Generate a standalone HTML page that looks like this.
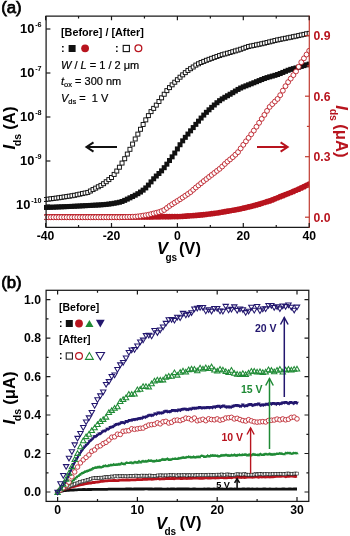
<!DOCTYPE html>
<html><head><meta charset="utf-8"><style>
html,body{margin:0;padding:0;background:#fff;}
svg{display:block;will-change:transform;}
text{font-family:"Liberation Sans",sans-serif;}
</style></head><body>
<svg width="350" height="536" viewBox="0 0 350 536" font-family="Liberation Sans, sans-serif">
<rect width="350" height="536" fill="#fff"/>
<clipPath id="ca"><rect x="44" y="10" width="265.3" height="220"/></clipPath>
<g id="a-data" clip-path="url(#ca)">
<rect x="43.10" y="204.96" width="5.0" height="5.0" fill="#111" stroke="none" stroke-width="0"/>
<rect x="45.74" y="204.88" width="5.0" height="5.0" fill="#111" stroke="none" stroke-width="0"/>
<rect x="48.37" y="204.77" width="5.0" height="5.0" fill="#111" stroke="none" stroke-width="0"/>
<rect x="51.01" y="204.66" width="5.0" height="5.0" fill="#111" stroke="none" stroke-width="0"/>
<rect x="53.64" y="204.55" width="5.0" height="5.0" fill="#111" stroke="none" stroke-width="0"/>
<rect x="56.28" y="204.43" width="5.0" height="5.0" fill="#111" stroke="none" stroke-width="0"/>
<rect x="58.92" y="204.32" width="5.0" height="5.0" fill="#111" stroke="none" stroke-width="0"/>
<rect x="61.55" y="204.21" width="5.0" height="5.0" fill="#111" stroke="none" stroke-width="0"/>
<rect x="64.19" y="204.10" width="5.0" height="5.0" fill="#111" stroke="none" stroke-width="0"/>
<rect x="66.82" y="203.98" width="5.0" height="5.0" fill="#111" stroke="none" stroke-width="0"/>
<rect x="69.46" y="203.87" width="5.0" height="5.0" fill="#111" stroke="none" stroke-width="0"/>
<rect x="72.10" y="203.74" width="5.0" height="5.0" fill="#111" stroke="none" stroke-width="0"/>
<rect x="74.73" y="203.61" width="5.0" height="5.0" fill="#111" stroke="none" stroke-width="0"/>
<rect x="77.37" y="203.47" width="5.0" height="5.0" fill="#111" stroke="none" stroke-width="0"/>
<rect x="80.00" y="203.33" width="5.0" height="5.0" fill="#111" stroke="none" stroke-width="0"/>
<rect x="82.64" y="203.19" width="5.0" height="5.0" fill="#111" stroke="none" stroke-width="0"/>
<rect x="85.28" y="203.05" width="5.0" height="5.0" fill="#111" stroke="none" stroke-width="0"/>
<rect x="87.91" y="202.92" width="5.0" height="5.0" fill="#111" stroke="none" stroke-width="0"/>
<rect x="90.55" y="202.78" width="5.0" height="5.0" fill="#111" stroke="none" stroke-width="0"/>
<rect x="93.18" y="202.64" width="5.0" height="5.0" fill="#111" stroke="none" stroke-width="0"/>
<rect x="95.82" y="202.50" width="5.0" height="5.0" fill="#111" stroke="none" stroke-width="0"/>
<rect x="98.46" y="202.33" width="5.0" height="5.0" fill="#111" stroke="none" stroke-width="0"/>
<rect x="101.09" y="202.13" width="5.0" height="5.0" fill="#111" stroke="none" stroke-width="0"/>
<rect x="103.73" y="201.87" width="5.0" height="5.0" fill="#111" stroke="none" stroke-width="0"/>
<rect x="106.36" y="201.58" width="5.0" height="5.0" fill="#111" stroke="none" stroke-width="0"/>
<rect x="109.00" y="201.21" width="5.0" height="5.0" fill="#111" stroke="none" stroke-width="0"/>
<rect x="111.64" y="200.77" width="5.0" height="5.0" fill="#111" stroke="none" stroke-width="0"/>
<rect x="114.27" y="200.30" width="5.0" height="5.0" fill="#111" stroke="none" stroke-width="0"/>
<rect x="116.91" y="199.76" width="5.0" height="5.0" fill="#111" stroke="none" stroke-width="0"/>
<rect x="119.54" y="198.97" width="5.0" height="5.0" fill="#111" stroke="none" stroke-width="0"/>
<rect x="122.18" y="197.87" width="5.0" height="5.0" fill="#111" stroke="none" stroke-width="0"/>
<rect x="124.82" y="196.62" width="5.0" height="5.0" fill="#111" stroke="none" stroke-width="0"/>
<rect x="127.45" y="195.34" width="5.0" height="5.0" fill="#111" stroke="none" stroke-width="0"/>
<rect x="130.09" y="194.05" width="5.0" height="5.0" fill="#111" stroke="none" stroke-width="0"/>
<rect x="132.72" y="192.69" width="5.0" height="5.0" fill="#111" stroke="none" stroke-width="0"/>
<rect x="135.36" y="191.20" width="5.0" height="5.0" fill="#111" stroke="none" stroke-width="0"/>
<rect x="138.00" y="189.54" width="5.0" height="5.0" fill="#111" stroke="none" stroke-width="0"/>
<rect x="140.63" y="187.65" width="5.0" height="5.0" fill="#111" stroke="none" stroke-width="0"/>
<rect x="143.27" y="185.40" width="5.0" height="5.0" fill="#111" stroke="none" stroke-width="0"/>
<rect x="145.90" y="182.59" width="5.0" height="5.0" fill="#111" stroke="none" stroke-width="0"/>
<rect x="148.54" y="179.37" width="5.0" height="5.0" fill="#111" stroke="none" stroke-width="0"/>
<rect x="151.18" y="176.29" width="5.0" height="5.0" fill="#111" stroke="none" stroke-width="0"/>
<rect x="153.81" y="173.54" width="5.0" height="5.0" fill="#111" stroke="none" stroke-width="0"/>
<rect x="156.45" y="171.01" width="5.0" height="5.0" fill="#111" stroke="none" stroke-width="0"/>
<rect x="159.08" y="168.35" width="5.0" height="5.0" fill="#111" stroke="none" stroke-width="0"/>
<rect x="161.72" y="165.19" width="5.0" height="5.0" fill="#111" stroke="none" stroke-width="0"/>
<rect x="164.36" y="161.66" width="5.0" height="5.0" fill="#111" stroke="none" stroke-width="0"/>
<rect x="166.99" y="158.02" width="5.0" height="5.0" fill="#111" stroke="none" stroke-width="0"/>
<rect x="169.63" y="154.34" width="5.0" height="5.0" fill="#111" stroke="none" stroke-width="0"/>
<rect x="172.26" y="150.54" width="5.0" height="5.0" fill="#111" stroke="none" stroke-width="0"/>
<rect x="174.90" y="146.44" width="5.0" height="5.0" fill="#111" stroke="none" stroke-width="0"/>
<rect x="177.54" y="142.23" width="5.0" height="5.0" fill="#111" stroke="none" stroke-width="0"/>
<rect x="180.17" y="138.34" width="5.0" height="5.0" fill="#111" stroke="none" stroke-width="0"/>
<rect x="182.81" y="134.85" width="5.0" height="5.0" fill="#111" stroke="none" stroke-width="0"/>
<rect x="185.44" y="131.55" width="5.0" height="5.0" fill="#111" stroke="none" stroke-width="0"/>
<rect x="188.08" y="128.32" width="5.0" height="5.0" fill="#111" stroke="none" stroke-width="0"/>
<rect x="190.72" y="125.08" width="5.0" height="5.0" fill="#111" stroke="none" stroke-width="0"/>
<rect x="193.35" y="121.85" width="5.0" height="5.0" fill="#111" stroke="none" stroke-width="0"/>
<rect x="195.99" y="118.67" width="5.0" height="5.0" fill="#111" stroke="none" stroke-width="0"/>
<rect x="198.62" y="115.56" width="5.0" height="5.0" fill="#111" stroke="none" stroke-width="0"/>
<rect x="201.26" y="112.57" width="5.0" height="5.0" fill="#111" stroke="none" stroke-width="0"/>
<rect x="203.90" y="109.83" width="5.0" height="5.0" fill="#111" stroke="none" stroke-width="0"/>
<rect x="206.53" y="107.30" width="5.0" height="5.0" fill="#111" stroke="none" stroke-width="0"/>
<rect x="209.17" y="104.87" width="5.0" height="5.0" fill="#111" stroke="none" stroke-width="0"/>
<rect x="211.80" y="102.50" width="5.0" height="5.0" fill="#111" stroke="none" stroke-width="0"/>
<rect x="214.44" y="100.23" width="5.0" height="5.0" fill="#111" stroke="none" stroke-width="0"/>
<rect x="217.08" y="98.16" width="5.0" height="5.0" fill="#111" stroke="none" stroke-width="0"/>
<rect x="219.71" y="96.38" width="5.0" height="5.0" fill="#111" stroke="none" stroke-width="0"/>
<rect x="222.35" y="94.79" width="5.0" height="5.0" fill="#111" stroke="none" stroke-width="0"/>
<rect x="224.98" y="93.26" width="5.0" height="5.0" fill="#111" stroke="none" stroke-width="0"/>
<rect x="227.62" y="91.74" width="5.0" height="5.0" fill="#111" stroke="none" stroke-width="0"/>
<rect x="230.26" y="90.17" width="5.0" height="5.0" fill="#111" stroke="none" stroke-width="0"/>
<rect x="232.89" y="88.54" width="5.0" height="5.0" fill="#111" stroke="none" stroke-width="0"/>
<rect x="235.53" y="86.93" width="5.0" height="5.0" fill="#111" stroke="none" stroke-width="0"/>
<rect x="238.16" y="85.52" width="5.0" height="5.0" fill="#111" stroke="none" stroke-width="0"/>
<rect x="240.80" y="84.36" width="5.0" height="5.0" fill="#111" stroke="none" stroke-width="0"/>
<rect x="243.44" y="83.33" width="5.0" height="5.0" fill="#111" stroke="none" stroke-width="0"/>
<rect x="246.07" y="82.31" width="5.0" height="5.0" fill="#111" stroke="none" stroke-width="0"/>
<rect x="248.71" y="81.29" width="5.0" height="5.0" fill="#111" stroke="none" stroke-width="0"/>
<rect x="251.34" y="80.24" width="5.0" height="5.0" fill="#111" stroke="none" stroke-width="0"/>
<rect x="253.98" y="79.18" width="5.0" height="5.0" fill="#111" stroke="none" stroke-width="0"/>
<rect x="256.62" y="78.10" width="5.0" height="5.0" fill="#111" stroke="none" stroke-width="0"/>
<rect x="259.25" y="77.04" width="5.0" height="5.0" fill="#111" stroke="none" stroke-width="0"/>
<rect x="261.89" y="76.01" width="5.0" height="5.0" fill="#111" stroke="none" stroke-width="0"/>
<rect x="264.52" y="75.11" width="5.0" height="5.0" fill="#111" stroke="none" stroke-width="0"/>
<rect x="267.16" y="74.33" width="5.0" height="5.0" fill="#111" stroke="none" stroke-width="0"/>
<rect x="269.80" y="73.60" width="5.0" height="5.0" fill="#111" stroke="none" stroke-width="0"/>
<rect x="272.43" y="72.85" width="5.0" height="5.0" fill="#111" stroke="none" stroke-width="0"/>
<rect x="275.07" y="72.01" width="5.0" height="5.0" fill="#111" stroke="none" stroke-width="0"/>
<rect x="277.70" y="71.03" width="5.0" height="5.0" fill="#111" stroke="none" stroke-width="0"/>
<rect x="280.34" y="69.94" width="5.0" height="5.0" fill="#111" stroke="none" stroke-width="0"/>
<rect x="282.98" y="68.83" width="5.0" height="5.0" fill="#111" stroke="none" stroke-width="0"/>
<rect x="285.61" y="67.76" width="5.0" height="5.0" fill="#111" stroke="none" stroke-width="0"/>
<rect x="288.25" y="66.85" width="5.0" height="5.0" fill="#111" stroke="none" stroke-width="0"/>
<rect x="290.88" y="66.12" width="5.0" height="5.0" fill="#111" stroke="none" stroke-width="0"/>
<rect x="293.52" y="65.43" width="5.0" height="5.0" fill="#111" stroke="none" stroke-width="0"/>
<rect x="296.16" y="64.69" width="5.0" height="5.0" fill="#111" stroke="none" stroke-width="0"/>
<rect x="298.79" y="63.91" width="5.0" height="5.0" fill="#111" stroke="none" stroke-width="0"/>
<rect x="301.43" y="63.12" width="5.0" height="5.0" fill="#111" stroke="none" stroke-width="0"/>
<rect x="304.06" y="62.35" width="5.0" height="5.0" fill="#111" stroke="none" stroke-width="0"/>
<rect x="306.70" y="61.62" width="5.0" height="5.0" fill="#111" stroke="none" stroke-width="0"/>
<rect x="43.60" y="197.49" width="4.0" height="4.0" fill="#fff" stroke="#111" stroke-width="0.95"/>
<rect x="46.24" y="197.14" width="4.0" height="4.0" fill="#fff" stroke="#111" stroke-width="0.95"/>
<rect x="48.87" y="196.80" width="4.0" height="4.0" fill="#fff" stroke="#111" stroke-width="0.95"/>
<rect x="51.51" y="196.46" width="4.0" height="4.0" fill="#fff" stroke="#111" stroke-width="0.95"/>
<rect x="54.14" y="196.11" width="4.0" height="4.0" fill="#fff" stroke="#111" stroke-width="0.95"/>
<rect x="56.78" y="195.77" width="4.0" height="4.0" fill="#fff" stroke="#111" stroke-width="0.95"/>
<rect x="59.42" y="195.37" width="4.0" height="4.0" fill="#fff" stroke="#111" stroke-width="0.95"/>
<rect x="62.05" y="194.97" width="4.0" height="4.0" fill="#fff" stroke="#111" stroke-width="0.95"/>
<rect x="64.69" y="194.56" width="4.0" height="4.0" fill="#fff" stroke="#111" stroke-width="0.95"/>
<rect x="67.32" y="194.16" width="4.0" height="4.0" fill="#fff" stroke="#111" stroke-width="0.95"/>
<rect x="69.96" y="193.75" width="4.0" height="4.0" fill="#fff" stroke="#111" stroke-width="0.95"/>
<rect x="72.60" y="193.28" width="4.0" height="4.0" fill="#fff" stroke="#111" stroke-width="0.95"/>
<rect x="75.23" y="192.71" width="4.0" height="4.0" fill="#fff" stroke="#111" stroke-width="0.95"/>
<rect x="77.87" y="192.14" width="4.0" height="4.0" fill="#fff" stroke="#111" stroke-width="0.95"/>
<rect x="80.50" y="191.57" width="4.0" height="4.0" fill="#fff" stroke="#111" stroke-width="0.95"/>
<rect x="83.14" y="191.00" width="4.0" height="4.0" fill="#fff" stroke="#111" stroke-width="0.95"/>
<rect x="85.78" y="190.43" width="4.0" height="4.0" fill="#fff" stroke="#111" stroke-width="0.95"/>
<rect x="88.41" y="189.02" width="4.0" height="4.0" fill="#fff" stroke="#111" stroke-width="0.95"/>
<rect x="91.05" y="187.57" width="4.0" height="4.0" fill="#fff" stroke="#111" stroke-width="0.95"/>
<rect x="93.68" y="186.14" width="4.0" height="4.0" fill="#fff" stroke="#111" stroke-width="0.95"/>
<rect x="96.32" y="184.77" width="4.0" height="4.0" fill="#fff" stroke="#111" stroke-width="0.95"/>
<rect x="98.96" y="183.40" width="4.0" height="4.0" fill="#fff" stroke="#111" stroke-width="0.95"/>
<rect x="101.59" y="181.69" width="4.0" height="4.0" fill="#fff" stroke="#111" stroke-width="0.95"/>
<rect x="104.23" y="179.73" width="4.0" height="4.0" fill="#fff" stroke="#111" stroke-width="0.95"/>
<rect x="106.86" y="177.61" width="4.0" height="4.0" fill="#fff" stroke="#111" stroke-width="0.95"/>
<rect x="109.50" y="175.48" width="4.0" height="4.0" fill="#fff" stroke="#111" stroke-width="0.95"/>
<rect x="112.14" y="172.40" width="4.0" height="4.0" fill="#fff" stroke="#111" stroke-width="0.95"/>
<rect x="114.77" y="169.04" width="4.0" height="4.0" fill="#fff" stroke="#111" stroke-width="0.95"/>
<rect x="117.41" y="165.22" width="4.0" height="4.0" fill="#fff" stroke="#111" stroke-width="0.95"/>
<rect x="120.04" y="161.06" width="4.0" height="4.0" fill="#fff" stroke="#111" stroke-width="0.95"/>
<rect x="122.68" y="156.71" width="4.0" height="4.0" fill="#fff" stroke="#111" stroke-width="0.95"/>
<rect x="125.32" y="152.08" width="4.0" height="4.0" fill="#fff" stroke="#111" stroke-width="0.95"/>
<rect x="127.95" y="147.31" width="4.0" height="4.0" fill="#fff" stroke="#111" stroke-width="0.95"/>
<rect x="130.59" y="142.09" width="4.0" height="4.0" fill="#fff" stroke="#111" stroke-width="0.95"/>
<rect x="133.22" y="136.98" width="4.0" height="4.0" fill="#fff" stroke="#111" stroke-width="0.95"/>
<rect x="135.86" y="132.13" width="4.0" height="4.0" fill="#fff" stroke="#111" stroke-width="0.95"/>
<rect x="138.50" y="127.28" width="4.0" height="4.0" fill="#fff" stroke="#111" stroke-width="0.95"/>
<rect x="141.13" y="122.46" width="4.0" height="4.0" fill="#fff" stroke="#111" stroke-width="0.95"/>
<rect x="143.77" y="117.88" width="4.0" height="4.0" fill="#fff" stroke="#111" stroke-width="0.95"/>
<rect x="146.40" y="113.62" width="4.0" height="4.0" fill="#fff" stroke="#111" stroke-width="0.95"/>
<rect x="149.04" y="109.61" width="4.0" height="4.0" fill="#fff" stroke="#111" stroke-width="0.95"/>
<rect x="151.68" y="106.38" width="4.0" height="4.0" fill="#fff" stroke="#111" stroke-width="0.95"/>
<rect x="154.31" y="103.11" width="4.0" height="4.0" fill="#fff" stroke="#111" stroke-width="0.95"/>
<rect x="156.95" y="99.47" width="4.0" height="4.0" fill="#fff" stroke="#111" stroke-width="0.95"/>
<rect x="159.58" y="95.84" width="4.0" height="4.0" fill="#fff" stroke="#111" stroke-width="0.95"/>
<rect x="162.22" y="92.23" width="4.0" height="4.0" fill="#fff" stroke="#111" stroke-width="0.95"/>
<rect x="164.86" y="88.62" width="4.0" height="4.0" fill="#fff" stroke="#111" stroke-width="0.95"/>
<rect x="167.49" y="85.61" width="4.0" height="4.0" fill="#fff" stroke="#111" stroke-width="0.95"/>
<rect x="170.13" y="82.83" width="4.0" height="4.0" fill="#fff" stroke="#111" stroke-width="0.95"/>
<rect x="172.76" y="80.21" width="4.0" height="4.0" fill="#fff" stroke="#111" stroke-width="0.95"/>
<rect x="175.40" y="77.70" width="4.0" height="4.0" fill="#fff" stroke="#111" stroke-width="0.95"/>
<rect x="178.04" y="75.20" width="4.0" height="4.0" fill="#fff" stroke="#111" stroke-width="0.95"/>
<rect x="180.67" y="72.85" width="4.0" height="4.0" fill="#fff" stroke="#111" stroke-width="0.95"/>
<rect x="183.31" y="70.64" width="4.0" height="4.0" fill="#fff" stroke="#111" stroke-width="0.95"/>
<rect x="185.94" y="68.43" width="4.0" height="4.0" fill="#fff" stroke="#111" stroke-width="0.95"/>
<rect x="188.58" y="66.70" width="4.0" height="4.0" fill="#fff" stroke="#111" stroke-width="0.95"/>
<rect x="191.22" y="64.99" width="4.0" height="4.0" fill="#fff" stroke="#111" stroke-width="0.95"/>
<rect x="193.85" y="63.11" width="4.0" height="4.0" fill="#fff" stroke="#111" stroke-width="0.95"/>
<rect x="196.49" y="61.78" width="4.0" height="4.0" fill="#fff" stroke="#111" stroke-width="0.95"/>
<rect x="199.12" y="60.49" width="4.0" height="4.0" fill="#fff" stroke="#111" stroke-width="0.95"/>
<rect x="201.76" y="59.40" width="4.0" height="4.0" fill="#fff" stroke="#111" stroke-width="0.95"/>
<rect x="204.40" y="58.30" width="4.0" height="4.0" fill="#fff" stroke="#111" stroke-width="0.95"/>
<rect x="207.03" y="57.33" width="4.0" height="4.0" fill="#fff" stroke="#111" stroke-width="0.95"/>
<rect x="209.67" y="56.35" width="4.0" height="4.0" fill="#fff" stroke="#111" stroke-width="0.95"/>
<rect x="212.30" y="55.40" width="4.0" height="4.0" fill="#fff" stroke="#111" stroke-width="0.95"/>
<rect x="214.94" y="54.45" width="4.0" height="4.0" fill="#fff" stroke="#111" stroke-width="0.95"/>
<rect x="217.58" y="53.56" width="4.0" height="4.0" fill="#fff" stroke="#111" stroke-width="0.95"/>
<rect x="220.21" y="52.69" width="4.0" height="4.0" fill="#fff" stroke="#111" stroke-width="0.95"/>
<rect x="222.85" y="51.96" width="4.0" height="4.0" fill="#fff" stroke="#111" stroke-width="0.95"/>
<rect x="225.48" y="51.23" width="4.0" height="4.0" fill="#fff" stroke="#111" stroke-width="0.95"/>
<rect x="228.12" y="50.46" width="4.0" height="4.0" fill="#fff" stroke="#111" stroke-width="0.95"/>
<rect x="230.76" y="49.69" width="4.0" height="4.0" fill="#fff" stroke="#111" stroke-width="0.95"/>
<rect x="233.39" y="48.90" width="4.0" height="4.0" fill="#fff" stroke="#111" stroke-width="0.95"/>
<rect x="236.03" y="48.10" width="4.0" height="4.0" fill="#fff" stroke="#111" stroke-width="0.95"/>
<rect x="238.66" y="47.26" width="4.0" height="4.0" fill="#fff" stroke="#111" stroke-width="0.95"/>
<rect x="241.30" y="46.30" width="4.0" height="4.0" fill="#fff" stroke="#111" stroke-width="0.95"/>
<rect x="243.94" y="45.35" width="4.0" height="4.0" fill="#fff" stroke="#111" stroke-width="0.95"/>
<rect x="246.57" y="44.48" width="4.0" height="4.0" fill="#fff" stroke="#111" stroke-width="0.95"/>
<rect x="249.21" y="43.94" width="4.0" height="4.0" fill="#fff" stroke="#111" stroke-width="0.95"/>
<rect x="251.84" y="43.39" width="4.0" height="4.0" fill="#fff" stroke="#111" stroke-width="0.95"/>
<rect x="254.48" y="42.85" width="4.0" height="4.0" fill="#fff" stroke="#111" stroke-width="0.95"/>
<rect x="257.12" y="42.30" width="4.0" height="4.0" fill="#fff" stroke="#111" stroke-width="0.95"/>
<rect x="259.75" y="41.76" width="4.0" height="4.0" fill="#fff" stroke="#111" stroke-width="0.95"/>
<rect x="262.39" y="41.16" width="4.0" height="4.0" fill="#fff" stroke="#111" stroke-width="0.95"/>
<rect x="265.02" y="40.51" width="4.0" height="4.0" fill="#fff" stroke="#111" stroke-width="0.95"/>
<rect x="267.66" y="39.86" width="4.0" height="4.0" fill="#fff" stroke="#111" stroke-width="0.95"/>
<rect x="270.30" y="39.21" width="4.0" height="4.0" fill="#fff" stroke="#111" stroke-width="0.95"/>
<rect x="272.93" y="38.56" width="4.0" height="4.0" fill="#fff" stroke="#111" stroke-width="0.95"/>
<rect x="275.57" y="37.91" width="4.0" height="4.0" fill="#fff" stroke="#111" stroke-width="0.95"/>
<rect x="278.20" y="37.36" width="4.0" height="4.0" fill="#fff" stroke="#111" stroke-width="0.95"/>
<rect x="280.84" y="36.83" width="4.0" height="4.0" fill="#fff" stroke="#111" stroke-width="0.95"/>
<rect x="283.48" y="36.30" width="4.0" height="4.0" fill="#fff" stroke="#111" stroke-width="0.95"/>
<rect x="286.11" y="35.78" width="4.0" height="4.0" fill="#fff" stroke="#111" stroke-width="0.95"/>
<rect x="288.75" y="35.25" width="4.0" height="4.0" fill="#fff" stroke="#111" stroke-width="0.95"/>
<rect x="291.38" y="34.72" width="4.0" height="4.0" fill="#fff" stroke="#111" stroke-width="0.95"/>
<rect x="294.02" y="34.17" width="4.0" height="4.0" fill="#fff" stroke="#111" stroke-width="0.95"/>
<rect x="296.66" y="33.57" width="4.0" height="4.0" fill="#fff" stroke="#111" stroke-width="0.95"/>
<rect x="299.29" y="32.98" width="4.0" height="4.0" fill="#fff" stroke="#111" stroke-width="0.95"/>
<rect x="301.93" y="32.38" width="4.0" height="4.0" fill="#fff" stroke="#111" stroke-width="0.95"/>
<rect x="304.56" y="31.79" width="4.0" height="4.0" fill="#fff" stroke="#111" stroke-width="0.95"/>
<rect x="307.20" y="31.37" width="4.0" height="4.0" fill="#fff" stroke="#111" stroke-width="0.95"/>
<circle cx="45.60" cy="216.90" r="2.85" fill="#b8141e" stroke="none" stroke-width="0"/>
<circle cx="48.24" cy="216.90" r="2.85" fill="#b8141e" stroke="none" stroke-width="0"/>
<circle cx="50.87" cy="216.90" r="2.85" fill="#b8141e" stroke="none" stroke-width="0"/>
<circle cx="53.51" cy="216.90" r="2.85" fill="#b8141e" stroke="none" stroke-width="0"/>
<circle cx="56.14" cy="216.90" r="2.85" fill="#b8141e" stroke="none" stroke-width="0"/>
<circle cx="58.78" cy="216.90" r="2.85" fill="#b8141e" stroke="none" stroke-width="0"/>
<circle cx="61.42" cy="216.90" r="2.85" fill="#b8141e" stroke="none" stroke-width="0"/>
<circle cx="64.05" cy="216.90" r="2.85" fill="#b8141e" stroke="none" stroke-width="0"/>
<circle cx="66.69" cy="216.90" r="2.85" fill="#b8141e" stroke="none" stroke-width="0"/>
<circle cx="69.32" cy="216.90" r="2.85" fill="#b8141e" stroke="none" stroke-width="0"/>
<circle cx="71.96" cy="216.90" r="2.85" fill="#b8141e" stroke="none" stroke-width="0"/>
<circle cx="74.60" cy="216.90" r="2.85" fill="#b8141e" stroke="none" stroke-width="0"/>
<circle cx="77.23" cy="216.90" r="2.85" fill="#b8141e" stroke="none" stroke-width="0"/>
<circle cx="79.87" cy="216.90" r="2.85" fill="#b8141e" stroke="none" stroke-width="0"/>
<circle cx="82.50" cy="216.90" r="2.85" fill="#b8141e" stroke="none" stroke-width="0"/>
<circle cx="85.14" cy="216.90" r="2.85" fill="#b8141e" stroke="none" stroke-width="0"/>
<circle cx="87.78" cy="216.90" r="2.85" fill="#b8141e" stroke="none" stroke-width="0"/>
<circle cx="90.41" cy="216.90" r="2.85" fill="#b8141e" stroke="none" stroke-width="0"/>
<circle cx="93.05" cy="216.90" r="2.85" fill="#b8141e" stroke="none" stroke-width="0"/>
<circle cx="95.68" cy="216.90" r="2.85" fill="#b8141e" stroke="none" stroke-width="0"/>
<circle cx="98.32" cy="216.90" r="2.85" fill="#b8141e" stroke="none" stroke-width="0"/>
<circle cx="100.96" cy="216.90" r="2.85" fill="#b8141e" stroke="none" stroke-width="0"/>
<circle cx="103.59" cy="216.90" r="2.85" fill="#b8141e" stroke="none" stroke-width="0"/>
<circle cx="106.23" cy="216.90" r="2.85" fill="#b8141e" stroke="none" stroke-width="0"/>
<circle cx="108.86" cy="216.90" r="2.85" fill="#b8141e" stroke="none" stroke-width="0"/>
<circle cx="111.50" cy="216.90" r="2.85" fill="#b8141e" stroke="none" stroke-width="0"/>
<circle cx="114.14" cy="216.90" r="2.85" fill="#b8141e" stroke="none" stroke-width="0"/>
<circle cx="116.77" cy="216.90" r="2.85" fill="#b8141e" stroke="none" stroke-width="0"/>
<circle cx="119.41" cy="216.90" r="2.85" fill="#b8141e" stroke="none" stroke-width="0"/>
<circle cx="122.04" cy="216.90" r="2.85" fill="#b8141e" stroke="none" stroke-width="0"/>
<circle cx="124.68" cy="216.90" r="2.85" fill="#b8141e" stroke="none" stroke-width="0"/>
<circle cx="127.32" cy="216.90" r="2.85" fill="#b8141e" stroke="none" stroke-width="0"/>
<circle cx="129.95" cy="216.90" r="2.85" fill="#b8141e" stroke="none" stroke-width="0"/>
<circle cx="132.59" cy="216.90" r="2.85" fill="#b8141e" stroke="none" stroke-width="0"/>
<circle cx="135.22" cy="216.90" r="2.85" fill="#b8141e" stroke="none" stroke-width="0"/>
<circle cx="137.86" cy="216.90" r="2.85" fill="#b8141e" stroke="none" stroke-width="0"/>
<circle cx="140.50" cy="216.90" r="2.85" fill="#b8141e" stroke="none" stroke-width="0"/>
<circle cx="143.13" cy="216.90" r="2.85" fill="#b8141e" stroke="none" stroke-width="0"/>
<circle cx="145.77" cy="216.90" r="2.85" fill="#b8141e" stroke="none" stroke-width="0"/>
<circle cx="148.40" cy="216.90" r="2.85" fill="#b8141e" stroke="none" stroke-width="0"/>
<circle cx="151.04" cy="216.89" r="2.85" fill="#b8141e" stroke="none" stroke-width="0"/>
<circle cx="153.68" cy="216.85" r="2.85" fill="#b8141e" stroke="none" stroke-width="0"/>
<circle cx="156.31" cy="216.82" r="2.85" fill="#b8141e" stroke="none" stroke-width="0"/>
<circle cx="158.95" cy="216.78" r="2.85" fill="#b8141e" stroke="none" stroke-width="0"/>
<circle cx="161.58" cy="216.75" r="2.85" fill="#b8141e" stroke="none" stroke-width="0"/>
<circle cx="164.22" cy="216.71" r="2.85" fill="#b8141e" stroke="none" stroke-width="0"/>
<circle cx="166.86" cy="216.68" r="2.85" fill="#b8141e" stroke="none" stroke-width="0"/>
<circle cx="169.49" cy="216.64" r="2.85" fill="#b8141e" stroke="none" stroke-width="0"/>
<circle cx="172.13" cy="216.60" r="2.85" fill="#b8141e" stroke="none" stroke-width="0"/>
<circle cx="174.76" cy="216.57" r="2.85" fill="#b8141e" stroke="none" stroke-width="0"/>
<circle cx="177.40" cy="216.53" r="2.85" fill="#b8141e" stroke="none" stroke-width="0"/>
<circle cx="180.04" cy="216.50" r="2.85" fill="#b8141e" stroke="none" stroke-width="0"/>
<circle cx="182.67" cy="216.31" r="2.85" fill="#b8141e" stroke="none" stroke-width="0"/>
<circle cx="185.31" cy="216.13" r="2.85" fill="#b8141e" stroke="none" stroke-width="0"/>
<circle cx="187.94" cy="215.94" r="2.85" fill="#b8141e" stroke="none" stroke-width="0"/>
<circle cx="190.58" cy="215.76" r="2.85" fill="#b8141e" stroke="none" stroke-width="0"/>
<circle cx="193.22" cy="215.57" r="2.85" fill="#b8141e" stroke="none" stroke-width="0"/>
<circle cx="195.85" cy="215.39" r="2.85" fill="#b8141e" stroke="none" stroke-width="0"/>
<circle cx="198.49" cy="215.21" r="2.85" fill="#b8141e" stroke="none" stroke-width="0"/>
<circle cx="201.12" cy="214.96" r="2.85" fill="#b8141e" stroke="none" stroke-width="0"/>
<circle cx="203.76" cy="214.64" r="2.85" fill="#b8141e" stroke="none" stroke-width="0"/>
<circle cx="206.40" cy="214.31" r="2.85" fill="#b8141e" stroke="none" stroke-width="0"/>
<circle cx="209.03" cy="213.99" r="2.85" fill="#b8141e" stroke="none" stroke-width="0"/>
<circle cx="211.67" cy="213.67" r="2.85" fill="#b8141e" stroke="none" stroke-width="0"/>
<circle cx="214.30" cy="213.34" r="2.85" fill="#b8141e" stroke="none" stroke-width="0"/>
<circle cx="216.94" cy="213.02" r="2.85" fill="#b8141e" stroke="none" stroke-width="0"/>
<circle cx="219.58" cy="212.57" r="2.85" fill="#b8141e" stroke="none" stroke-width="0"/>
<circle cx="222.21" cy="212.11" r="2.85" fill="#b8141e" stroke="none" stroke-width="0"/>
<circle cx="224.85" cy="211.65" r="2.85" fill="#b8141e" stroke="none" stroke-width="0"/>
<circle cx="227.48" cy="211.19" r="2.85" fill="#b8141e" stroke="none" stroke-width="0"/>
<circle cx="230.12" cy="210.73" r="2.85" fill="#b8141e" stroke="none" stroke-width="0"/>
<circle cx="232.76" cy="210.27" r="2.85" fill="#b8141e" stroke="none" stroke-width="0"/>
<circle cx="235.39" cy="209.80" r="2.85" fill="#b8141e" stroke="none" stroke-width="0"/>
<circle cx="238.03" cy="209.34" r="2.85" fill="#b8141e" stroke="none" stroke-width="0"/>
<circle cx="240.66" cy="208.84" r="2.85" fill="#b8141e" stroke="none" stroke-width="0"/>
<circle cx="243.30" cy="208.22" r="2.85" fill="#b8141e" stroke="none" stroke-width="0"/>
<circle cx="245.94" cy="207.59" r="2.85" fill="#b8141e" stroke="none" stroke-width="0"/>
<circle cx="248.57" cy="206.96" r="2.85" fill="#b8141e" stroke="none" stroke-width="0"/>
<circle cx="251.21" cy="206.34" r="2.85" fill="#b8141e" stroke="none" stroke-width="0"/>
<circle cx="253.84" cy="205.71" r="2.85" fill="#b8141e" stroke="none" stroke-width="0"/>
<circle cx="256.48" cy="204.93" r="2.85" fill="#b8141e" stroke="none" stroke-width="0"/>
<circle cx="259.12" cy="204.13" r="2.85" fill="#b8141e" stroke="none" stroke-width="0"/>
<circle cx="261.75" cy="203.32" r="2.85" fill="#b8141e" stroke="none" stroke-width="0"/>
<circle cx="264.39" cy="202.52" r="2.85" fill="#b8141e" stroke="none" stroke-width="0"/>
<circle cx="267.02" cy="201.71" r="2.85" fill="#b8141e" stroke="none" stroke-width="0"/>
<circle cx="269.66" cy="200.90" r="2.85" fill="#b8141e" stroke="none" stroke-width="0"/>
<circle cx="272.30" cy="199.88" r="2.85" fill="#b8141e" stroke="none" stroke-width="0"/>
<circle cx="274.93" cy="198.83" r="2.85" fill="#b8141e" stroke="none" stroke-width="0"/>
<circle cx="277.57" cy="197.77" r="2.85" fill="#b8141e" stroke="none" stroke-width="0"/>
<circle cx="280.20" cy="196.72" r="2.85" fill="#b8141e" stroke="none" stroke-width="0"/>
<circle cx="282.84" cy="195.66" r="2.85" fill="#b8141e" stroke="none" stroke-width="0"/>
<circle cx="285.48" cy="194.61" r="2.85" fill="#b8141e" stroke="none" stroke-width="0"/>
<circle cx="288.11" cy="193.56" r="2.85" fill="#b8141e" stroke="none" stroke-width="0"/>
<circle cx="290.75" cy="192.49" r="2.85" fill="#b8141e" stroke="none" stroke-width="0"/>
<circle cx="293.38" cy="191.38" r="2.85" fill="#b8141e" stroke="none" stroke-width="0"/>
<circle cx="296.02" cy="190.27" r="2.85" fill="#b8141e" stroke="none" stroke-width="0"/>
<circle cx="298.66" cy="189.16" r="2.85" fill="#b8141e" stroke="none" stroke-width="0"/>
<circle cx="301.29" cy="187.95" r="2.85" fill="#b8141e" stroke="none" stroke-width="0"/>
<circle cx="303.93" cy="186.64" r="2.85" fill="#b8141e" stroke="none" stroke-width="0"/>
<circle cx="306.56" cy="185.32" r="2.85" fill="#b8141e" stroke="none" stroke-width="0"/>
<circle cx="309.20" cy="183.99" r="2.85" fill="#b8141e" stroke="none" stroke-width="0"/>
<circle cx="45.60" cy="217.30" r="2.45" fill="#fff" stroke="#b8141e" stroke-width="0.85"/>
<circle cx="48.24" cy="217.30" r="2.45" fill="#fff" stroke="#b8141e" stroke-width="0.85"/>
<circle cx="50.87" cy="217.30" r="2.45" fill="#fff" stroke="#b8141e" stroke-width="0.85"/>
<circle cx="53.51" cy="217.30" r="2.45" fill="#fff" stroke="#b8141e" stroke-width="0.85"/>
<circle cx="56.14" cy="217.30" r="2.45" fill="#fff" stroke="#b8141e" stroke-width="0.85"/>
<circle cx="58.78" cy="217.30" r="2.45" fill="#fff" stroke="#b8141e" stroke-width="0.85"/>
<circle cx="61.42" cy="217.30" r="2.45" fill="#fff" stroke="#b8141e" stroke-width="0.85"/>
<circle cx="64.05" cy="217.30" r="2.45" fill="#fff" stroke="#b8141e" stroke-width="0.85"/>
<circle cx="66.69" cy="217.30" r="2.45" fill="#fff" stroke="#b8141e" stroke-width="0.85"/>
<circle cx="69.32" cy="217.30" r="2.45" fill="#fff" stroke="#b8141e" stroke-width="0.85"/>
<circle cx="71.96" cy="217.30" r="2.45" fill="#fff" stroke="#b8141e" stroke-width="0.85"/>
<circle cx="74.60" cy="217.30" r="2.45" fill="#fff" stroke="#b8141e" stroke-width="0.85"/>
<circle cx="77.23" cy="217.30" r="2.45" fill="#fff" stroke="#b8141e" stroke-width="0.85"/>
<circle cx="79.87" cy="217.30" r="2.45" fill="#fff" stroke="#b8141e" stroke-width="0.85"/>
<circle cx="82.50" cy="217.30" r="2.45" fill="#fff" stroke="#b8141e" stroke-width="0.85"/>
<circle cx="85.14" cy="217.30" r="2.45" fill="#fff" stroke="#b8141e" stroke-width="0.85"/>
<circle cx="87.78" cy="217.30" r="2.45" fill="#fff" stroke="#b8141e" stroke-width="0.85"/>
<circle cx="90.41" cy="217.30" r="2.45" fill="#fff" stroke="#b8141e" stroke-width="0.85"/>
<circle cx="93.05" cy="217.30" r="2.45" fill="#fff" stroke="#b8141e" stroke-width="0.85"/>
<circle cx="95.68" cy="217.30" r="2.45" fill="#fff" stroke="#b8141e" stroke-width="0.85"/>
<circle cx="98.32" cy="217.30" r="2.45" fill="#fff" stroke="#b8141e" stroke-width="0.85"/>
<circle cx="100.96" cy="217.30" r="2.45" fill="#fff" stroke="#b8141e" stroke-width="0.85"/>
<circle cx="103.59" cy="217.30" r="2.45" fill="#fff" stroke="#b8141e" stroke-width="0.85"/>
<circle cx="106.23" cy="217.30" r="2.45" fill="#fff" stroke="#b8141e" stroke-width="0.85"/>
<circle cx="108.86" cy="217.30" r="2.45" fill="#fff" stroke="#b8141e" stroke-width="0.85"/>
<circle cx="111.50" cy="217.30" r="2.45" fill="#fff" stroke="#b8141e" stroke-width="0.85"/>
<circle cx="114.14" cy="217.30" r="2.45" fill="#fff" stroke="#b8141e" stroke-width="0.85"/>
<circle cx="116.77" cy="217.30" r="2.45" fill="#fff" stroke="#b8141e" stroke-width="0.85"/>
<circle cx="119.41" cy="217.30" r="2.45" fill="#fff" stroke="#b8141e" stroke-width="0.85"/>
<circle cx="122.04" cy="217.22" r="2.45" fill="#fff" stroke="#b8141e" stroke-width="0.85"/>
<circle cx="124.68" cy="217.11" r="2.45" fill="#fff" stroke="#b8141e" stroke-width="0.85"/>
<circle cx="127.32" cy="217.00" r="2.45" fill="#fff" stroke="#b8141e" stroke-width="0.85"/>
<circle cx="129.95" cy="216.88" r="2.45" fill="#fff" stroke="#b8141e" stroke-width="0.85"/>
<circle cx="132.59" cy="216.77" r="2.45" fill="#fff" stroke="#b8141e" stroke-width="0.85"/>
<circle cx="135.22" cy="216.65" r="2.45" fill="#fff" stroke="#b8141e" stroke-width="0.85"/>
<circle cx="137.86" cy="216.38" r="2.45" fill="#fff" stroke="#b8141e" stroke-width="0.85"/>
<circle cx="140.50" cy="215.99" r="2.45" fill="#fff" stroke="#b8141e" stroke-width="0.85"/>
<circle cx="143.13" cy="215.60" r="2.45" fill="#fff" stroke="#b8141e" stroke-width="0.85"/>
<circle cx="145.77" cy="215.22" r="2.45" fill="#fff" stroke="#b8141e" stroke-width="0.85"/>
<circle cx="148.40" cy="214.77" r="2.45" fill="#fff" stroke="#b8141e" stroke-width="0.85"/>
<circle cx="151.04" cy="214.10" r="2.45" fill="#fff" stroke="#b8141e" stroke-width="0.85"/>
<circle cx="153.68" cy="213.43" r="2.45" fill="#fff" stroke="#b8141e" stroke-width="0.85"/>
<circle cx="156.31" cy="212.76" r="2.45" fill="#fff" stroke="#b8141e" stroke-width="0.85"/>
<circle cx="158.95" cy="212.09" r="2.45" fill="#fff" stroke="#b8141e" stroke-width="0.85"/>
<circle cx="161.58" cy="211.11" r="2.45" fill="#fff" stroke="#b8141e" stroke-width="0.85"/>
<circle cx="164.22" cy="209.96" r="2.45" fill="#fff" stroke="#b8141e" stroke-width="0.85"/>
<circle cx="166.86" cy="207.97" r="2.45" fill="#fff" stroke="#b8141e" stroke-width="0.85"/>
<circle cx="169.49" cy="205.98" r="2.45" fill="#fff" stroke="#b8141e" stroke-width="0.85"/>
<circle cx="172.13" cy="204.26" r="2.45" fill="#fff" stroke="#b8141e" stroke-width="0.85"/>
<circle cx="174.76" cy="202.60" r="2.45" fill="#fff" stroke="#b8141e" stroke-width="0.85"/>
<circle cx="177.40" cy="200.94" r="2.45" fill="#fff" stroke="#b8141e" stroke-width="0.85"/>
<circle cx="180.04" cy="199.28" r="2.45" fill="#fff" stroke="#b8141e" stroke-width="0.85"/>
<circle cx="182.67" cy="197.51" r="2.45" fill="#fff" stroke="#b8141e" stroke-width="0.85"/>
<circle cx="185.31" cy="195.74" r="2.45" fill="#fff" stroke="#b8141e" stroke-width="0.85"/>
<circle cx="187.94" cy="193.98" r="2.45" fill="#fff" stroke="#b8141e" stroke-width="0.85"/>
<circle cx="190.58" cy="192.09" r="2.45" fill="#fff" stroke="#b8141e" stroke-width="0.85"/>
<circle cx="193.22" cy="189.77" r="2.45" fill="#fff" stroke="#b8141e" stroke-width="0.85"/>
<circle cx="195.85" cy="187.51" r="2.45" fill="#fff" stroke="#b8141e" stroke-width="0.85"/>
<circle cx="198.49" cy="185.36" r="2.45" fill="#fff" stroke="#b8141e" stroke-width="0.85"/>
<circle cx="201.12" cy="183.22" r="2.45" fill="#fff" stroke="#b8141e" stroke-width="0.85"/>
<circle cx="203.76" cy="181.08" r="2.45" fill="#fff" stroke="#b8141e" stroke-width="0.85"/>
<circle cx="206.40" cy="179.03" r="2.45" fill="#fff" stroke="#b8141e" stroke-width="0.85"/>
<circle cx="209.03" cy="176.98" r="2.45" fill="#fff" stroke="#b8141e" stroke-width="0.85"/>
<circle cx="211.67" cy="174.94" r="2.45" fill="#fff" stroke="#b8141e" stroke-width="0.85"/>
<circle cx="214.30" cy="172.91" r="2.45" fill="#fff" stroke="#b8141e" stroke-width="0.85"/>
<circle cx="216.94" cy="170.89" r="2.45" fill="#fff" stroke="#b8141e" stroke-width="0.85"/>
<circle cx="219.58" cy="168.86" r="2.45" fill="#fff" stroke="#b8141e" stroke-width="0.85"/>
<circle cx="222.21" cy="166.51" r="2.45" fill="#fff" stroke="#b8141e" stroke-width="0.85"/>
<circle cx="224.85" cy="163.93" r="2.45" fill="#fff" stroke="#b8141e" stroke-width="0.85"/>
<circle cx="227.48" cy="161.53" r="2.45" fill="#fff" stroke="#b8141e" stroke-width="0.85"/>
<circle cx="230.12" cy="159.38" r="2.45" fill="#fff" stroke="#b8141e" stroke-width="0.85"/>
<circle cx="232.76" cy="157.17" r="2.45" fill="#fff" stroke="#b8141e" stroke-width="0.85"/>
<circle cx="235.39" cy="154.67" r="2.45" fill="#fff" stroke="#b8141e" stroke-width="0.85"/>
<circle cx="238.03" cy="152.12" r="2.45" fill="#fff" stroke="#b8141e" stroke-width="0.85"/>
<circle cx="240.66" cy="148.45" r="2.45" fill="#fff" stroke="#b8141e" stroke-width="0.85"/>
<circle cx="243.30" cy="144.81" r="2.45" fill="#fff" stroke="#b8141e" stroke-width="0.85"/>
<circle cx="245.94" cy="141.34" r="2.45" fill="#fff" stroke="#b8141e" stroke-width="0.85"/>
<circle cx="248.57" cy="137.86" r="2.45" fill="#fff" stroke="#b8141e" stroke-width="0.85"/>
<circle cx="251.21" cy="134.26" r="2.45" fill="#fff" stroke="#b8141e" stroke-width="0.85"/>
<circle cx="253.84" cy="130.60" r="2.45" fill="#fff" stroke="#b8141e" stroke-width="0.85"/>
<circle cx="256.48" cy="126.73" r="2.45" fill="#fff" stroke="#b8141e" stroke-width="0.85"/>
<circle cx="259.12" cy="122.82" r="2.45" fill="#fff" stroke="#b8141e" stroke-width="0.85"/>
<circle cx="261.75" cy="118.84" r="2.45" fill="#fff" stroke="#b8141e" stroke-width="0.85"/>
<circle cx="264.39" cy="114.87" r="2.45" fill="#fff" stroke="#b8141e" stroke-width="0.85"/>
<circle cx="267.02" cy="110.89" r="2.45" fill="#fff" stroke="#b8141e" stroke-width="0.85"/>
<circle cx="269.66" cy="106.91" r="2.45" fill="#fff" stroke="#b8141e" stroke-width="0.85"/>
<circle cx="272.30" cy="104.13" r="2.45" fill="#fff" stroke="#b8141e" stroke-width="0.85"/>
<circle cx="274.93" cy="101.53" r="2.45" fill="#fff" stroke="#b8141e" stroke-width="0.85"/>
<circle cx="277.57" cy="98.92" r="2.45" fill="#fff" stroke="#b8141e" stroke-width="0.85"/>
<circle cx="280.20" cy="95.17" r="2.45" fill="#fff" stroke="#b8141e" stroke-width="0.85"/>
<circle cx="282.84" cy="90.68" r="2.45" fill="#fff" stroke="#b8141e" stroke-width="0.85"/>
<circle cx="285.48" cy="86.19" r="2.45" fill="#fff" stroke="#b8141e" stroke-width="0.85"/>
<circle cx="288.11" cy="82.12" r="2.45" fill="#fff" stroke="#b8141e" stroke-width="0.85"/>
<circle cx="290.75" cy="78.60" r="2.45" fill="#fff" stroke="#b8141e" stroke-width="0.85"/>
<circle cx="293.38" cy="75.09" r="2.45" fill="#fff" stroke="#b8141e" stroke-width="0.85"/>
<circle cx="296.02" cy="71.44" r="2.45" fill="#fff" stroke="#b8141e" stroke-width="0.85"/>
<circle cx="298.66" cy="66.81" r="2.45" fill="#fff" stroke="#b8141e" stroke-width="0.85"/>
<circle cx="301.29" cy="62.19" r="2.45" fill="#fff" stroke="#b8141e" stroke-width="0.85"/>
<circle cx="303.93" cy="58.34" r="2.45" fill="#fff" stroke="#b8141e" stroke-width="0.85"/>
<circle cx="306.56" cy="54.53" r="2.45" fill="#fff" stroke="#b8141e" stroke-width="0.85"/>
<circle cx="309.20" cy="50.75" r="2.45" fill="#fff" stroke="#b8141e" stroke-width="0.85"/>
</g>
<g id="b-data">
<polyline points="57.6,492.0 59.2,491.7 60.8,491.4 62.4,491.0 64.0,490.7 65.6,490.5 67.2,490.4 68.8,490.3 70.4,490.2 72.0,490.1 73.6,490.0 75.2,489.9 76.8,489.8 78.3,489.7 79.9,489.6 81.5,489.6 83.1,489.5 84.7,489.5 86.3,489.6 87.9,489.5 89.5,489.5 91.1,489.5 92.7,489.4 94.3,489.4 95.9,489.4 97.5,489.4 99.1,489.4 100.7,489.4 102.3,489.4 103.9,489.3 105.5,489.3 107.1,489.3 108.7,489.2 110.3,489.2 111.9,489.2 113.5,489.2 115.1,489.2 116.7,489.1 118.2,489.2 119.8,489.1 121.4,489.1 123.0,489.1 124.6,489.1 126.2,489.0 127.8,489.0 129.4,489.0 131.0,489.0 132.6,489.1 134.2,489.0 135.8,489.0 137.4,489.0 139.0,489.0 140.6,489.0 142.2,489.0 143.8,489.0 145.4,488.9 147.0,488.9 148.6,489.0 150.2,489.0 151.8,489.0 153.4,489.1 155.0,489.0 156.6,488.9 158.1,489.0 159.7,489.0 161.3,489.0 162.9,489.1 164.5,489.1 166.1,489.1 167.7,489.0 169.3,489.1 170.9,489.0 172.5,489.0 174.1,489.0 175.7,489.1 177.3,489.0 178.9,489.0 180.5,489.0 182.1,489.0 183.7,489.0 185.3,489.0 186.9,489.0 188.5,489.0 190.1,489.1 191.7,489.1 193.3,489.0 194.9,489.0 196.5,489.1 198.0,489.1 199.6,489.1 201.2,489.1 202.8,489.1 204.4,489.0 206.0,489.1 207.6,489.0 209.2,489.0 210.8,489.1 212.4,489.1 214.0,489.0 215.6,489.1 217.2,489.0 218.8,489.0 220.4,489.1 222.0,489.0 223.6,489.1 225.2,489.1 226.8,489.1 228.4,489.1 230.0,489.0 231.6,489.0 233.2,489.1 234.8,489.0 236.4,489.1 237.9,489.1 239.5,489.1 241.1,489.1 242.7,489.0 244.3,489.0 245.9,489.1 247.5,489.0 249.1,489.0 250.7,489.1 252.3,489.0 253.9,489.1 255.5,489.1 257.1,489.0 258.7,489.1 260.3,489.1 261.9,489.2 263.5,489.0 265.1,489.0 266.7,489.1 268.3,489.1 269.9,489.0 271.5,489.1 273.1,489.1 274.7,489.1 276.3,489.0 277.8,489.1 279.4,489.1 281.0,489.1 282.6,489.0 284.2,489.0 285.8,489.1 287.4,489.1 289.0,489.0 290.6,489.0 292.2,489.1 293.8,489.0 295.4,489.0 297.0,489.0" fill="none" stroke="#111" stroke-width="2.8"/>
<polyline points="57.6,492.0 59.2,491.3 60.8,490.5 62.4,489.8 64.0,489.4 65.6,488.9 67.2,488.5 68.8,488.0 70.4,487.4 72.0,486.9 73.6,486.6 75.2,486.2 76.8,485.7 78.3,485.4 79.9,485.0 81.5,484.6 83.1,484.4 84.7,483.9 86.3,483.6 87.9,483.3 89.5,483.0 91.1,483.0 92.7,482.5 94.3,482.5 95.9,482.1 97.5,482.0 99.1,481.8 100.7,481.4 102.3,481.3 103.9,481.1 105.5,480.8 107.1,480.9 108.7,480.6 110.3,480.6 111.9,480.6 113.5,480.5 115.1,480.4 116.7,480.7 118.2,480.6 119.8,480.1 121.4,480.2 123.0,480.0 124.6,480.1 126.2,479.9 127.8,480.0 129.4,480.2 131.0,479.8 132.6,479.9 134.2,479.8 135.8,479.8 137.4,479.4 139.0,479.7 140.6,479.7 142.2,479.5 143.8,479.2 145.4,479.4 147.0,479.3 148.6,479.2 150.2,478.9 151.8,479.3 153.4,479.2 155.0,478.8 156.6,478.8 158.1,478.4 159.7,479.0 161.3,478.9 162.9,478.7 164.5,478.8 166.1,478.4 167.7,478.5 169.3,478.4 170.9,478.6 172.5,478.3 174.1,478.7 175.7,478.4 177.3,478.4 178.9,478.2 180.5,478.5 182.1,478.5 183.7,478.4 185.3,478.2 186.9,478.5 188.5,478.1 190.1,478.4 191.7,478.3 193.3,478.1 194.9,478.2 196.5,478.2 198.0,478.0 199.6,478.3 201.2,478.0 202.8,478.3 204.4,478.2 206.0,477.7 207.6,478.0 209.2,477.8 210.8,478.0 212.4,477.9 214.0,477.8 215.6,478.0 217.2,477.5 218.8,477.8 220.4,477.6 222.0,477.4 223.6,477.8 225.2,477.6 226.8,477.8 228.4,477.6 230.0,477.4 231.6,477.8 233.2,477.2 234.8,477.2 236.4,477.5 237.9,477.3 239.5,477.2 241.1,477.5 242.7,477.2 244.3,477.5 245.9,477.3 247.5,477.1 249.1,476.9 250.7,477.0 252.3,477.4 253.9,477.0 255.5,476.8 257.1,476.9 258.7,477.2 260.3,476.7 261.9,477.1 263.5,476.6 265.1,477.1 266.7,476.8 268.3,476.5 269.9,477.0 271.5,476.6 273.1,476.8 274.7,476.7 276.3,476.4 277.8,476.3 279.4,476.3 281.0,476.3 282.6,476.2 284.2,476.2 285.8,476.7 287.4,476.2 289.0,476.4 290.6,476.1 292.2,476.1 293.8,476.4 295.4,476.5 297.0,476.2" fill="none" stroke="#b8141e" stroke-width="2.8"/>
<rect x="56.15" y="490.43" width="2.9" height="2.9" fill="#fff" stroke="#111" stroke-width="0.55"/>
<rect x="57.75" y="489.80" width="2.9" height="2.9" fill="#fff" stroke="#111" stroke-width="0.55"/>
<rect x="59.34" y="488.70" width="2.9" height="2.9" fill="#fff" stroke="#111" stroke-width="0.55"/>
<rect x="60.94" y="487.91" width="2.9" height="2.9" fill="#fff" stroke="#111" stroke-width="0.55"/>
<rect x="62.53" y="487.07" width="2.9" height="2.9" fill="#fff" stroke="#111" stroke-width="0.55"/>
<rect x="64.13" y="486.49" width="2.9" height="2.9" fill="#fff" stroke="#111" stroke-width="0.55"/>
<rect x="65.73" y="485.81" width="2.9" height="2.9" fill="#fff" stroke="#111" stroke-width="0.55"/>
<rect x="67.32" y="485.09" width="2.9" height="2.9" fill="#fff" stroke="#111" stroke-width="0.55"/>
<rect x="68.92" y="484.38" width="2.9" height="2.9" fill="#fff" stroke="#111" stroke-width="0.55"/>
<rect x="70.51" y="483.82" width="2.9" height="2.9" fill="#fff" stroke="#111" stroke-width="0.55"/>
<rect x="72.11" y="483.19" width="2.9" height="2.9" fill="#fff" stroke="#111" stroke-width="0.55"/>
<rect x="73.71" y="482.60" width="2.9" height="2.9" fill="#fff" stroke="#111" stroke-width="0.55"/>
<rect x="75.30" y="481.98" width="2.9" height="2.9" fill="#fff" stroke="#111" stroke-width="0.55"/>
<rect x="76.90" y="481.23" width="2.9" height="2.9" fill="#fff" stroke="#111" stroke-width="0.55"/>
<rect x="78.49" y="480.69" width="2.9" height="2.9" fill="#fff" stroke="#111" stroke-width="0.55"/>
<rect x="80.09" y="480.21" width="2.9" height="2.9" fill="#fff" stroke="#111" stroke-width="0.55"/>
<rect x="81.69" y="479.82" width="2.9" height="2.9" fill="#fff" stroke="#111" stroke-width="0.55"/>
<rect x="83.28" y="479.54" width="2.9" height="2.9" fill="#fff" stroke="#111" stroke-width="0.55"/>
<rect x="84.88" y="478.94" width="2.9" height="2.9" fill="#fff" stroke="#111" stroke-width="0.55"/>
<rect x="86.47" y="478.70" width="2.9" height="2.9" fill="#fff" stroke="#111" stroke-width="0.55"/>
<rect x="88.07" y="478.07" width="2.9" height="2.9" fill="#fff" stroke="#111" stroke-width="0.55"/>
<rect x="89.67" y="477.66" width="2.9" height="2.9" fill="#fff" stroke="#111" stroke-width="0.55"/>
<rect x="91.26" y="476.85" width="2.9" height="2.9" fill="#fff" stroke="#111" stroke-width="0.55"/>
<rect x="92.86" y="476.81" width="2.9" height="2.9" fill="#fff" stroke="#111" stroke-width="0.55"/>
<rect x="94.45" y="476.49" width="2.9" height="2.9" fill="#fff" stroke="#111" stroke-width="0.55"/>
<rect x="96.05" y="476.40" width="2.9" height="2.9" fill="#fff" stroke="#111" stroke-width="0.55"/>
<rect x="97.65" y="476.63" width="2.9" height="2.9" fill="#fff" stroke="#111" stroke-width="0.55"/>
<rect x="99.24" y="476.16" width="2.9" height="2.9" fill="#fff" stroke="#111" stroke-width="0.55"/>
<rect x="100.84" y="476.34" width="2.9" height="2.9" fill="#fff" stroke="#111" stroke-width="0.55"/>
<rect x="102.43" y="476.00" width="2.9" height="2.9" fill="#fff" stroke="#111" stroke-width="0.55"/>
<rect x="104.03" y="475.56" width="2.9" height="2.9" fill="#fff" stroke="#111" stroke-width="0.55"/>
<rect x="105.63" y="475.89" width="2.9" height="2.9" fill="#fff" stroke="#111" stroke-width="0.55"/>
<rect x="107.22" y="475.27" width="2.9" height="2.9" fill="#fff" stroke="#111" stroke-width="0.55"/>
<rect x="108.82" y="475.64" width="2.9" height="2.9" fill="#fff" stroke="#111" stroke-width="0.55"/>
<rect x="110.41" y="474.95" width="2.9" height="2.9" fill="#fff" stroke="#111" stroke-width="0.55"/>
<rect x="112.01" y="475.27" width="2.9" height="2.9" fill="#fff" stroke="#111" stroke-width="0.55"/>
<rect x="113.61" y="474.76" width="2.9" height="2.9" fill="#fff" stroke="#111" stroke-width="0.55"/>
<rect x="115.20" y="474.75" width="2.9" height="2.9" fill="#fff" stroke="#111" stroke-width="0.55"/>
<rect x="116.80" y="475.10" width="2.9" height="2.9" fill="#fff" stroke="#111" stroke-width="0.55"/>
<rect x="118.39" y="474.71" width="2.9" height="2.9" fill="#fff" stroke="#111" stroke-width="0.55"/>
<rect x="119.99" y="474.83" width="2.9" height="2.9" fill="#fff" stroke="#111" stroke-width="0.55"/>
<rect x="121.59" y="474.87" width="2.9" height="2.9" fill="#fff" stroke="#111" stroke-width="0.55"/>
<rect x="123.18" y="474.34" width="2.9" height="2.9" fill="#fff" stroke="#111" stroke-width="0.55"/>
<rect x="124.78" y="474.90" width="2.9" height="2.9" fill="#fff" stroke="#111" stroke-width="0.55"/>
<rect x="126.37" y="474.94" width="2.9" height="2.9" fill="#fff" stroke="#111" stroke-width="0.55"/>
<rect x="127.97" y="474.31" width="2.9" height="2.9" fill="#fff" stroke="#111" stroke-width="0.55"/>
<rect x="129.57" y="474.59" width="2.9" height="2.9" fill="#fff" stroke="#111" stroke-width="0.55"/>
<rect x="131.16" y="474.36" width="2.9" height="2.9" fill="#fff" stroke="#111" stroke-width="0.55"/>
<rect x="132.76" y="474.70" width="2.9" height="2.9" fill="#fff" stroke="#111" stroke-width="0.55"/>
<rect x="134.35" y="474.11" width="2.9" height="2.9" fill="#fff" stroke="#111" stroke-width="0.55"/>
<rect x="135.95" y="474.47" width="2.9" height="2.9" fill="#fff" stroke="#111" stroke-width="0.55"/>
<rect x="137.55" y="474.67" width="2.9" height="2.9" fill="#fff" stroke="#111" stroke-width="0.55"/>
<rect x="139.14" y="474.60" width="2.9" height="2.9" fill="#fff" stroke="#111" stroke-width="0.55"/>
<rect x="140.74" y="474.08" width="2.9" height="2.9" fill="#fff" stroke="#111" stroke-width="0.55"/>
<rect x="142.33" y="474.64" width="2.9" height="2.9" fill="#fff" stroke="#111" stroke-width="0.55"/>
<rect x="143.93" y="474.14" width="2.9" height="2.9" fill="#fff" stroke="#111" stroke-width="0.55"/>
<rect x="145.53" y="474.57" width="2.9" height="2.9" fill="#fff" stroke="#111" stroke-width="0.55"/>
<rect x="147.12" y="474.30" width="2.9" height="2.9" fill="#fff" stroke="#111" stroke-width="0.55"/>
<rect x="148.72" y="474.00" width="2.9" height="2.9" fill="#fff" stroke="#111" stroke-width="0.55"/>
<rect x="150.31" y="474.44" width="2.9" height="2.9" fill="#fff" stroke="#111" stroke-width="0.55"/>
<rect x="151.91" y="474.47" width="2.9" height="2.9" fill="#fff" stroke="#111" stroke-width="0.55"/>
<rect x="153.51" y="474.36" width="2.9" height="2.9" fill="#fff" stroke="#111" stroke-width="0.55"/>
<rect x="155.10" y="474.55" width="2.9" height="2.9" fill="#fff" stroke="#111" stroke-width="0.55"/>
<rect x="156.70" y="473.96" width="2.9" height="2.9" fill="#fff" stroke="#111" stroke-width="0.55"/>
<rect x="158.29" y="473.92" width="2.9" height="2.9" fill="#fff" stroke="#111" stroke-width="0.55"/>
<rect x="159.89" y="473.83" width="2.9" height="2.9" fill="#fff" stroke="#111" stroke-width="0.55"/>
<rect x="161.49" y="474.12" width="2.9" height="2.9" fill="#fff" stroke="#111" stroke-width="0.55"/>
<rect x="163.08" y="473.98" width="2.9" height="2.9" fill="#fff" stroke="#111" stroke-width="0.55"/>
<rect x="164.68" y="473.93" width="2.9" height="2.9" fill="#fff" stroke="#111" stroke-width="0.55"/>
<rect x="166.27" y="473.99" width="2.9" height="2.9" fill="#fff" stroke="#111" stroke-width="0.55"/>
<rect x="167.87" y="473.81" width="2.9" height="2.9" fill="#fff" stroke="#111" stroke-width="0.55"/>
<rect x="169.47" y="473.57" width="2.9" height="2.9" fill="#fff" stroke="#111" stroke-width="0.55"/>
<rect x="171.06" y="473.93" width="2.9" height="2.9" fill="#fff" stroke="#111" stroke-width="0.55"/>
<rect x="172.66" y="473.75" width="2.9" height="2.9" fill="#fff" stroke="#111" stroke-width="0.55"/>
<rect x="174.25" y="473.86" width="2.9" height="2.9" fill="#fff" stroke="#111" stroke-width="0.55"/>
<rect x="175.85" y="474.22" width="2.9" height="2.9" fill="#fff" stroke="#111" stroke-width="0.55"/>
<rect x="177.45" y="473.60" width="2.9" height="2.9" fill="#fff" stroke="#111" stroke-width="0.55"/>
<rect x="179.04" y="473.94" width="2.9" height="2.9" fill="#fff" stroke="#111" stroke-width="0.55"/>
<rect x="180.64" y="473.93" width="2.9" height="2.9" fill="#fff" stroke="#111" stroke-width="0.55"/>
<rect x="182.23" y="473.61" width="2.9" height="2.9" fill="#fff" stroke="#111" stroke-width="0.55"/>
<rect x="183.83" y="473.74" width="2.9" height="2.9" fill="#fff" stroke="#111" stroke-width="0.55"/>
<rect x="185.43" y="474.12" width="2.9" height="2.9" fill="#fff" stroke="#111" stroke-width="0.55"/>
<rect x="187.02" y="473.59" width="2.9" height="2.9" fill="#fff" stroke="#111" stroke-width="0.55"/>
<rect x="188.62" y="473.86" width="2.9" height="2.9" fill="#fff" stroke="#111" stroke-width="0.55"/>
<rect x="190.21" y="473.94" width="2.9" height="2.9" fill="#fff" stroke="#111" stroke-width="0.55"/>
<rect x="191.81" y="473.54" width="2.9" height="2.9" fill="#fff" stroke="#111" stroke-width="0.55"/>
<rect x="193.41" y="474.02" width="2.9" height="2.9" fill="#fff" stroke="#111" stroke-width="0.55"/>
<rect x="195.00" y="473.70" width="2.9" height="2.9" fill="#fff" stroke="#111" stroke-width="0.55"/>
<rect x="196.60" y="473.58" width="2.9" height="2.9" fill="#fff" stroke="#111" stroke-width="0.55"/>
<rect x="198.19" y="473.73" width="2.9" height="2.9" fill="#fff" stroke="#111" stroke-width="0.55"/>
<rect x="199.79" y="473.47" width="2.9" height="2.9" fill="#fff" stroke="#111" stroke-width="0.55"/>
<rect x="201.39" y="473.68" width="2.9" height="2.9" fill="#fff" stroke="#111" stroke-width="0.55"/>
<rect x="202.98" y="473.31" width="2.9" height="2.9" fill="#fff" stroke="#111" stroke-width="0.55"/>
<rect x="204.58" y="473.81" width="2.9" height="2.9" fill="#fff" stroke="#111" stroke-width="0.55"/>
<rect x="206.17" y="473.48" width="2.9" height="2.9" fill="#fff" stroke="#111" stroke-width="0.55"/>
<rect x="207.77" y="473.22" width="2.9" height="2.9" fill="#fff" stroke="#111" stroke-width="0.55"/>
<rect x="209.37" y="473.36" width="2.9" height="2.9" fill="#fff" stroke="#111" stroke-width="0.55"/>
<rect x="210.96" y="473.70" width="2.9" height="2.9" fill="#fff" stroke="#111" stroke-width="0.55"/>
<rect x="212.56" y="473.61" width="2.9" height="2.9" fill="#fff" stroke="#111" stroke-width="0.55"/>
<rect x="214.15" y="473.33" width="2.9" height="2.9" fill="#fff" stroke="#111" stroke-width="0.55"/>
<rect x="215.75" y="473.20" width="2.9" height="2.9" fill="#fff" stroke="#111" stroke-width="0.55"/>
<rect x="217.35" y="473.20" width="2.9" height="2.9" fill="#fff" stroke="#111" stroke-width="0.55"/>
<rect x="218.94" y="473.66" width="2.9" height="2.9" fill="#fff" stroke="#111" stroke-width="0.55"/>
<rect x="220.54" y="472.95" width="2.9" height="2.9" fill="#fff" stroke="#111" stroke-width="0.55"/>
<rect x="222.13" y="473.55" width="2.9" height="2.9" fill="#fff" stroke="#111" stroke-width="0.55"/>
<rect x="223.73" y="473.50" width="2.9" height="2.9" fill="#fff" stroke="#111" stroke-width="0.55"/>
<rect x="225.33" y="472.97" width="2.9" height="2.9" fill="#fff" stroke="#111" stroke-width="0.55"/>
<rect x="226.92" y="473.05" width="2.9" height="2.9" fill="#fff" stroke="#111" stroke-width="0.55"/>
<rect x="228.52" y="473.21" width="2.9" height="2.9" fill="#fff" stroke="#111" stroke-width="0.55"/>
<rect x="230.11" y="473.37" width="2.9" height="2.9" fill="#fff" stroke="#111" stroke-width="0.55"/>
<rect x="231.71" y="473.47" width="2.9" height="2.9" fill="#fff" stroke="#111" stroke-width="0.55"/>
<rect x="233.31" y="473.48" width="2.9" height="2.9" fill="#fff" stroke="#111" stroke-width="0.55"/>
<rect x="234.90" y="472.89" width="2.9" height="2.9" fill="#fff" stroke="#111" stroke-width="0.55"/>
<rect x="236.50" y="472.80" width="2.9" height="2.9" fill="#fff" stroke="#111" stroke-width="0.55"/>
<rect x="238.09" y="473.01" width="2.9" height="2.9" fill="#fff" stroke="#111" stroke-width="0.55"/>
<rect x="239.69" y="473.05" width="2.9" height="2.9" fill="#fff" stroke="#111" stroke-width="0.55"/>
<rect x="241.29" y="473.11" width="2.9" height="2.9" fill="#fff" stroke="#111" stroke-width="0.55"/>
<rect x="242.88" y="472.64" width="2.9" height="2.9" fill="#fff" stroke="#111" stroke-width="0.55"/>
<rect x="244.48" y="473.05" width="2.9" height="2.9" fill="#fff" stroke="#111" stroke-width="0.55"/>
<rect x="246.07" y="473.25" width="2.9" height="2.9" fill="#fff" stroke="#111" stroke-width="0.55"/>
<rect x="247.67" y="473.23" width="2.9" height="2.9" fill="#fff" stroke="#111" stroke-width="0.55"/>
<rect x="249.27" y="473.23" width="2.9" height="2.9" fill="#fff" stroke="#111" stroke-width="0.55"/>
<rect x="250.86" y="473.19" width="2.9" height="2.9" fill="#fff" stroke="#111" stroke-width="0.55"/>
<rect x="252.46" y="473.20" width="2.9" height="2.9" fill="#fff" stroke="#111" stroke-width="0.55"/>
<rect x="254.05" y="472.45" width="2.9" height="2.9" fill="#fff" stroke="#111" stroke-width="0.55"/>
<rect x="255.65" y="473.12" width="2.9" height="2.9" fill="#fff" stroke="#111" stroke-width="0.55"/>
<rect x="257.25" y="472.58" width="2.9" height="2.9" fill="#fff" stroke="#111" stroke-width="0.55"/>
<rect x="258.84" y="472.60" width="2.9" height="2.9" fill="#fff" stroke="#111" stroke-width="0.55"/>
<rect x="260.44" y="472.69" width="2.9" height="2.9" fill="#fff" stroke="#111" stroke-width="0.55"/>
<rect x="262.03" y="473.07" width="2.9" height="2.9" fill="#fff" stroke="#111" stroke-width="0.55"/>
<rect x="263.63" y="472.77" width="2.9" height="2.9" fill="#fff" stroke="#111" stroke-width="0.55"/>
<rect x="265.23" y="472.54" width="2.9" height="2.9" fill="#fff" stroke="#111" stroke-width="0.55"/>
<rect x="266.82" y="472.54" width="2.9" height="2.9" fill="#fff" stroke="#111" stroke-width="0.55"/>
<rect x="268.42" y="472.94" width="2.9" height="2.9" fill="#fff" stroke="#111" stroke-width="0.55"/>
<rect x="270.01" y="472.86" width="2.9" height="2.9" fill="#fff" stroke="#111" stroke-width="0.55"/>
<rect x="271.61" y="472.29" width="2.9" height="2.9" fill="#fff" stroke="#111" stroke-width="0.55"/>
<rect x="273.21" y="472.35" width="2.9" height="2.9" fill="#fff" stroke="#111" stroke-width="0.55"/>
<rect x="274.80" y="472.43" width="2.9" height="2.9" fill="#fff" stroke="#111" stroke-width="0.55"/>
<rect x="276.40" y="472.29" width="2.9" height="2.9" fill="#fff" stroke="#111" stroke-width="0.55"/>
<rect x="277.99" y="472.54" width="2.9" height="2.9" fill="#fff" stroke="#111" stroke-width="0.55"/>
<rect x="279.59" y="472.25" width="2.9" height="2.9" fill="#fff" stroke="#111" stroke-width="0.55"/>
<rect x="281.19" y="472.51" width="2.9" height="2.9" fill="#fff" stroke="#111" stroke-width="0.55"/>
<rect x="282.78" y="472.78" width="2.9" height="2.9" fill="#fff" stroke="#111" stroke-width="0.55"/>
<rect x="284.38" y="472.68" width="2.9" height="2.9" fill="#fff" stroke="#111" stroke-width="0.55"/>
<rect x="285.97" y="472.06" width="2.9" height="2.9" fill="#fff" stroke="#111" stroke-width="0.55"/>
<rect x="287.57" y="472.13" width="2.9" height="2.9" fill="#fff" stroke="#111" stroke-width="0.55"/>
<rect x="289.17" y="472.27" width="2.9" height="2.9" fill="#fff" stroke="#111" stroke-width="0.55"/>
<rect x="290.76" y="472.44" width="2.9" height="2.9" fill="#fff" stroke="#111" stroke-width="0.55"/>
<rect x="292.36" y="472.21" width="2.9" height="2.9" fill="#fff" stroke="#111" stroke-width="0.55"/>
<rect x="293.95" y="472.08" width="2.9" height="2.9" fill="#fff" stroke="#111" stroke-width="0.55"/>
<rect x="295.55" y="472.13" width="2.9" height="2.9" fill="#fff" stroke="#111" stroke-width="0.55"/>
<polygon points="57.60,490.27 55.90,493.22 59.30,493.22" fill="#1f8a35" stroke="none" stroke-width="0"/>
<polygon points="59.20,489.60 57.50,492.55 60.90,492.55" fill="#1f8a35" stroke="none" stroke-width="0"/>
<polygon points="60.79,488.64 59.09,491.58 62.49,491.58" fill="#1f8a35" stroke="none" stroke-width="0"/>
<polygon points="62.39,487.55 60.69,490.50 64.09,490.50" fill="#1f8a35" stroke="none" stroke-width="0"/>
<polygon points="63.98,486.45 62.28,489.39 65.68,489.39" fill="#1f8a35" stroke="none" stroke-width="0"/>
<polygon points="65.58,485.18 63.88,488.12 67.28,488.12" fill="#1f8a35" stroke="none" stroke-width="0"/>
<polygon points="67.18,483.97 65.48,486.91 68.88,486.91" fill="#1f8a35" stroke="none" stroke-width="0"/>
<polygon points="68.77,482.67 67.07,485.61 70.47,485.61" fill="#1f8a35" stroke="none" stroke-width="0"/>
<polygon points="70.37,481.19 68.67,484.13 72.07,484.13" fill="#1f8a35" stroke="none" stroke-width="0"/>
<polygon points="71.96,479.84 70.26,482.78 73.66,482.78" fill="#1f8a35" stroke="none" stroke-width="0"/>
<polygon points="73.56,478.24 71.86,481.19 75.26,481.19" fill="#1f8a35" stroke="none" stroke-width="0"/>
<polygon points="75.16,476.73 73.46,479.68 76.86,479.68" fill="#1f8a35" stroke="none" stroke-width="0"/>
<polygon points="76.75,475.23 75.05,478.18 78.45,478.18" fill="#1f8a35" stroke="none" stroke-width="0"/>
<polygon points="78.35,474.17 76.65,477.12 80.05,477.12" fill="#1f8a35" stroke="none" stroke-width="0"/>
<polygon points="79.94,472.92 78.24,475.86 81.64,475.86" fill="#1f8a35" stroke="none" stroke-width="0"/>
<polygon points="81.54,471.64 79.84,474.58 83.24,474.58" fill="#1f8a35" stroke="none" stroke-width="0"/>
<polygon points="83.14,471.03 81.44,473.97 84.84,473.97" fill="#1f8a35" stroke="none" stroke-width="0"/>
<polygon points="84.73,470.12 83.03,473.07 86.43,473.07" fill="#1f8a35" stroke="none" stroke-width="0"/>
<polygon points="86.33,469.46 84.63,472.40 88.03,472.40" fill="#1f8a35" stroke="none" stroke-width="0"/>
<polygon points="87.92,469.02 86.22,471.97 89.62,471.97" fill="#1f8a35" stroke="none" stroke-width="0"/>
<polygon points="89.52,468.32 87.82,471.27 91.22,471.27" fill="#1f8a35" stroke="none" stroke-width="0"/>
<polygon points="91.12,467.72 89.42,470.67 92.82,470.67" fill="#1f8a35" stroke="none" stroke-width="0"/>
<polygon points="92.71,466.71 91.01,469.66 94.41,469.66" fill="#1f8a35" stroke="none" stroke-width="0"/>
<polygon points="94.31,466.15 92.61,469.09 96.01,469.09" fill="#1f8a35" stroke="none" stroke-width="0"/>
<polygon points="95.90,465.71 94.20,468.66 97.60,468.66" fill="#1f8a35" stroke="none" stroke-width="0"/>
<polygon points="97.50,465.43 95.80,468.38 99.20,468.38" fill="#1f8a35" stroke="none" stroke-width="0"/>
<polygon points="99.10,465.10 97.40,468.05 100.80,468.05" fill="#1f8a35" stroke="none" stroke-width="0"/>
<polygon points="100.69,465.47 98.99,468.41 102.39,468.41" fill="#1f8a35" stroke="none" stroke-width="0"/>
<polygon points="102.29,465.10 100.59,468.05 103.99,468.05" fill="#1f8a35" stroke="none" stroke-width="0"/>
<polygon points="103.88,464.19 102.18,467.13 105.58,467.13" fill="#1f8a35" stroke="none" stroke-width="0"/>
<polygon points="105.48,463.90 103.78,466.85 107.18,466.85" fill="#1f8a35" stroke="none" stroke-width="0"/>
<polygon points="107.08,464.33 105.38,467.28 108.78,467.28" fill="#1f8a35" stroke="none" stroke-width="0"/>
<polygon points="108.67,463.76 106.97,466.70 110.37,466.70" fill="#1f8a35" stroke="none" stroke-width="0"/>
<polygon points="110.27,463.35 108.57,466.29 111.97,466.29" fill="#1f8a35" stroke="none" stroke-width="0"/>
<polygon points="111.86,463.24 110.16,466.18 113.56,466.18" fill="#1f8a35" stroke="none" stroke-width="0"/>
<polygon points="113.46,462.82 111.76,465.76 115.16,465.76" fill="#1f8a35" stroke="none" stroke-width="0"/>
<polygon points="115.06,462.95 113.36,465.89 116.76,465.89" fill="#1f8a35" stroke="none" stroke-width="0"/>
<polygon points="116.65,462.90 114.95,465.85 118.35,465.85" fill="#1f8a35" stroke="none" stroke-width="0"/>
<polygon points="118.25,462.45 116.55,465.40 119.95,465.40" fill="#1f8a35" stroke="none" stroke-width="0"/>
<polygon points="119.84,462.61 118.14,465.56 121.54,465.56" fill="#1f8a35" stroke="none" stroke-width="0"/>
<polygon points="121.44,461.55 119.74,464.50 123.14,464.50" fill="#1f8a35" stroke="none" stroke-width="0"/>
<polygon points="123.04,461.93 121.34,464.88 124.74,464.88" fill="#1f8a35" stroke="none" stroke-width="0"/>
<polygon points="124.63,462.19 122.93,465.13 126.33,465.13" fill="#1f8a35" stroke="none" stroke-width="0"/>
<polygon points="126.23,460.97 124.53,463.91 127.93,463.91" fill="#1f8a35" stroke="none" stroke-width="0"/>
<polygon points="127.82,461.18 126.12,464.12 129.52,464.12" fill="#1f8a35" stroke="none" stroke-width="0"/>
<polygon points="129.42,461.17 127.72,464.11 131.12,464.11" fill="#1f8a35" stroke="none" stroke-width="0"/>
<polygon points="131.02,460.67 129.32,463.62 132.72,463.62" fill="#1f8a35" stroke="none" stroke-width="0"/>
<polygon points="132.61,461.29 130.91,464.23 134.31,464.23" fill="#1f8a35" stroke="none" stroke-width="0"/>
<polygon points="134.21,460.57 132.51,463.52 135.91,463.52" fill="#1f8a35" stroke="none" stroke-width="0"/>
<polygon points="135.80,460.43 134.10,463.37 137.50,463.37" fill="#1f8a35" stroke="none" stroke-width="0"/>
<polygon points="137.40,460.79 135.70,463.74 139.10,463.74" fill="#1f8a35" stroke="none" stroke-width="0"/>
<polygon points="139.00,459.59 137.30,462.54 140.70,462.54" fill="#1f8a35" stroke="none" stroke-width="0"/>
<polygon points="140.59,460.48 138.89,463.42 142.29,463.42" fill="#1f8a35" stroke="none" stroke-width="0"/>
<polygon points="142.19,459.45 140.49,462.40 143.89,462.40" fill="#1f8a35" stroke="none" stroke-width="0"/>
<polygon points="143.78,459.61 142.08,462.56 145.48,462.56" fill="#1f8a35" stroke="none" stroke-width="0"/>
<polygon points="145.38,459.61 143.68,462.55 147.08,462.55" fill="#1f8a35" stroke="none" stroke-width="0"/>
<polygon points="146.98,459.46 145.28,462.40 148.68,462.40" fill="#1f8a35" stroke="none" stroke-width="0"/>
<polygon points="148.57,458.79 146.87,461.74 150.27,461.74" fill="#1f8a35" stroke="none" stroke-width="0"/>
<polygon points="150.17,458.99 148.47,461.93 151.87,461.93" fill="#1f8a35" stroke="none" stroke-width="0"/>
<polygon points="151.76,458.90 150.06,461.84 153.46,461.84" fill="#1f8a35" stroke="none" stroke-width="0"/>
<polygon points="153.36,459.48 151.66,462.42 155.06,462.42" fill="#1f8a35" stroke="none" stroke-width="0"/>
<polygon points="154.96,459.30 153.26,462.24 156.66,462.24" fill="#1f8a35" stroke="none" stroke-width="0"/>
<polygon points="156.55,458.76 154.85,461.70 158.25,461.70" fill="#1f8a35" stroke="none" stroke-width="0"/>
<polygon points="158.15,459.04 156.45,461.98 159.85,461.98" fill="#1f8a35" stroke="none" stroke-width="0"/>
<polygon points="159.74,458.80 158.04,461.75 161.44,461.75" fill="#1f8a35" stroke="none" stroke-width="0"/>
<polygon points="161.34,458.06 159.64,461.01 163.04,461.01" fill="#1f8a35" stroke="none" stroke-width="0"/>
<polygon points="162.94,457.59 161.24,460.54 164.64,460.54" fill="#1f8a35" stroke="none" stroke-width="0"/>
<polygon points="164.53,458.03 162.83,460.97 166.23,460.97" fill="#1f8a35" stroke="none" stroke-width="0"/>
<polygon points="166.13,457.53 164.43,460.47 167.83,460.47" fill="#1f8a35" stroke="none" stroke-width="0"/>
<polygon points="167.72,457.00 166.02,459.94 169.42,459.94" fill="#1f8a35" stroke="none" stroke-width="0"/>
<polygon points="169.32,458.00 167.62,460.95 171.02,460.95" fill="#1f8a35" stroke="none" stroke-width="0"/>
<polygon points="170.92,457.83 169.22,460.78 172.62,460.78" fill="#1f8a35" stroke="none" stroke-width="0"/>
<polygon points="172.51,457.16 170.81,460.10 174.21,460.10" fill="#1f8a35" stroke="none" stroke-width="0"/>
<polygon points="174.11,457.10 172.41,460.04 175.81,460.04" fill="#1f8a35" stroke="none" stroke-width="0"/>
<polygon points="175.70,457.00 174.00,459.95 177.40,459.95" fill="#1f8a35" stroke="none" stroke-width="0"/>
<polygon points="177.30,457.16 175.60,460.10 179.00,460.10" fill="#1f8a35" stroke="none" stroke-width="0"/>
<polygon points="178.90,456.45 177.20,459.39 180.60,459.39" fill="#1f8a35" stroke="none" stroke-width="0"/>
<polygon points="180.49,456.43 178.79,459.37 182.19,459.37" fill="#1f8a35" stroke="none" stroke-width="0"/>
<polygon points="182.09,455.84 180.39,458.79 183.79,458.79" fill="#1f8a35" stroke="none" stroke-width="0"/>
<polygon points="183.68,455.71 181.98,458.65 185.38,458.65" fill="#1f8a35" stroke="none" stroke-width="0"/>
<polygon points="185.28,455.89 183.58,458.83 186.98,458.83" fill="#1f8a35" stroke="none" stroke-width="0"/>
<polygon points="186.88,455.38 185.18,458.32 188.58,458.32" fill="#1f8a35" stroke="none" stroke-width="0"/>
<polygon points="188.47,455.01 186.77,457.96 190.17,457.96" fill="#1f8a35" stroke="none" stroke-width="0"/>
<polygon points="190.07,455.29 188.37,458.24 191.77,458.24" fill="#1f8a35" stroke="none" stroke-width="0"/>
<polygon points="191.66,455.63 189.96,458.57 193.36,458.57" fill="#1f8a35" stroke="none" stroke-width="0"/>
<polygon points="193.26,454.94 191.56,457.88 194.96,457.88" fill="#1f8a35" stroke="none" stroke-width="0"/>
<polygon points="194.86,455.52 193.16,458.46 196.56,458.46" fill="#1f8a35" stroke="none" stroke-width="0"/>
<polygon points="196.45,455.20 194.75,458.15 198.15,458.15" fill="#1f8a35" stroke="none" stroke-width="0"/>
<polygon points="198.05,455.02 196.35,457.97 199.75,457.97" fill="#1f8a35" stroke="none" stroke-width="0"/>
<polygon points="199.64,455.19 197.94,458.13 201.34,458.13" fill="#1f8a35" stroke="none" stroke-width="0"/>
<polygon points="201.24,454.08 199.54,457.03 202.94,457.03" fill="#1f8a35" stroke="none" stroke-width="0"/>
<polygon points="202.84,454.15 201.14,457.10 204.54,457.10" fill="#1f8a35" stroke="none" stroke-width="0"/>
<polygon points="204.43,454.98 202.73,457.93 206.13,457.93" fill="#1f8a35" stroke="none" stroke-width="0"/>
<polygon points="206.03,454.93 204.33,457.87 207.73,457.87" fill="#1f8a35" stroke="none" stroke-width="0"/>
<polygon points="207.62,453.89 205.92,456.83 209.32,456.83" fill="#1f8a35" stroke="none" stroke-width="0"/>
<polygon points="209.22,454.68 207.52,457.62 210.92,457.62" fill="#1f8a35" stroke="none" stroke-width="0"/>
<polygon points="210.82,453.72 209.12,456.66 212.52,456.66" fill="#1f8a35" stroke="none" stroke-width="0"/>
<polygon points="212.41,453.81 210.71,456.76 214.11,456.76" fill="#1f8a35" stroke="none" stroke-width="0"/>
<polygon points="214.01,453.73 212.31,456.68 215.71,456.68" fill="#1f8a35" stroke="none" stroke-width="0"/>
<polygon points="215.60,453.91 213.90,456.85 217.30,456.85" fill="#1f8a35" stroke="none" stroke-width="0"/>
<polygon points="217.20,453.97 215.50,456.92 218.90,456.92" fill="#1f8a35" stroke="none" stroke-width="0"/>
<polygon points="218.80,454.55 217.10,457.50 220.50,457.50" fill="#1f8a35" stroke="none" stroke-width="0"/>
<polygon points="220.39,453.93 218.69,456.88 222.09,456.88" fill="#1f8a35" stroke="none" stroke-width="0"/>
<polygon points="221.99,453.51 220.29,456.46 223.69,456.46" fill="#1f8a35" stroke="none" stroke-width="0"/>
<polygon points="223.58,453.64 221.88,456.59 225.28,456.59" fill="#1f8a35" stroke="none" stroke-width="0"/>
<polygon points="225.18,453.27 223.48,456.22 226.88,456.22" fill="#1f8a35" stroke="none" stroke-width="0"/>
<polygon points="226.78,453.25 225.08,456.20 228.48,456.20" fill="#1f8a35" stroke="none" stroke-width="0"/>
<polygon points="228.37,453.69 226.67,456.63 230.07,456.63" fill="#1f8a35" stroke="none" stroke-width="0"/>
<polygon points="229.97,453.74 228.27,456.68 231.67,456.68" fill="#1f8a35" stroke="none" stroke-width="0"/>
<polygon points="231.56,453.37 229.86,456.32 233.26,456.32" fill="#1f8a35" stroke="none" stroke-width="0"/>
<polygon points="233.16,453.47 231.46,456.42 234.86,456.42" fill="#1f8a35" stroke="none" stroke-width="0"/>
<polygon points="234.76,453.09 233.06,456.03 236.46,456.03" fill="#1f8a35" stroke="none" stroke-width="0"/>
<polygon points="236.35,453.70 234.65,456.64 238.05,456.64" fill="#1f8a35" stroke="none" stroke-width="0"/>
<polygon points="237.95,453.32 236.25,456.27 239.65,456.27" fill="#1f8a35" stroke="none" stroke-width="0"/>
<polygon points="239.54,452.99 237.84,455.93 241.24,455.93" fill="#1f8a35" stroke="none" stroke-width="0"/>
<polygon points="241.14,453.34 239.44,456.28 242.84,456.28" fill="#1f8a35" stroke="none" stroke-width="0"/>
<polygon points="242.74,452.93 241.04,455.88 244.44,455.88" fill="#1f8a35" stroke="none" stroke-width="0"/>
<polygon points="244.33,452.98 242.63,455.92 246.03,455.92" fill="#1f8a35" stroke="none" stroke-width="0"/>
<polygon points="245.93,452.72 244.23,455.67 247.63,455.67" fill="#1f8a35" stroke="none" stroke-width="0"/>
<polygon points="247.52,453.45 245.82,456.40 249.22,456.40" fill="#1f8a35" stroke="none" stroke-width="0"/>
<polygon points="249.12,452.80 247.42,455.74 250.82,455.74" fill="#1f8a35" stroke="none" stroke-width="0"/>
<polygon points="250.72,453.55 249.02,456.50 252.42,456.50" fill="#1f8a35" stroke="none" stroke-width="0"/>
<polygon points="252.31,452.84 250.61,455.78 254.01,455.78" fill="#1f8a35" stroke="none" stroke-width="0"/>
<polygon points="253.91,452.48 252.21,455.43 255.61,455.43" fill="#1f8a35" stroke="none" stroke-width="0"/>
<polygon points="255.50,453.09 253.80,456.03 257.20,456.03" fill="#1f8a35" stroke="none" stroke-width="0"/>
<polygon points="257.10,453.06 255.40,456.01 258.80,456.01" fill="#1f8a35" stroke="none" stroke-width="0"/>
<polygon points="258.70,453.18 257.00,456.13 260.40,456.13" fill="#1f8a35" stroke="none" stroke-width="0"/>
<polygon points="260.29,452.23 258.59,455.17 261.99,455.17" fill="#1f8a35" stroke="none" stroke-width="0"/>
<polygon points="261.89,452.96 260.19,455.91 263.59,455.91" fill="#1f8a35" stroke="none" stroke-width="0"/>
<polygon points="263.48,452.99 261.78,455.94 265.18,455.94" fill="#1f8a35" stroke="none" stroke-width="0"/>
<polygon points="265.08,452.27 263.38,455.21 266.78,455.21" fill="#1f8a35" stroke="none" stroke-width="0"/>
<polygon points="266.68,452.39 264.98,455.34 268.38,455.34" fill="#1f8a35" stroke="none" stroke-width="0"/>
<polygon points="268.27,452.54 266.57,455.48 269.97,455.48" fill="#1f8a35" stroke="none" stroke-width="0"/>
<polygon points="269.87,452.03 268.17,454.98 271.57,454.98" fill="#1f8a35" stroke="none" stroke-width="0"/>
<polygon points="271.46,452.73 269.76,455.67 273.16,455.67" fill="#1f8a35" stroke="none" stroke-width="0"/>
<polygon points="273.06,452.47 271.36,455.41 274.76,455.41" fill="#1f8a35" stroke="none" stroke-width="0"/>
<polygon points="274.66,452.60 272.96,455.55 276.36,455.55" fill="#1f8a35" stroke="none" stroke-width="0"/>
<polygon points="276.25,452.06 274.55,455.00 277.95,455.00" fill="#1f8a35" stroke="none" stroke-width="0"/>
<polygon points="277.85,452.08 276.15,455.03 279.55,455.03" fill="#1f8a35" stroke="none" stroke-width="0"/>
<polygon points="279.44,451.64 277.74,454.58 281.14,454.58" fill="#1f8a35" stroke="none" stroke-width="0"/>
<polygon points="281.04,451.73 279.34,454.67 282.74,454.67" fill="#1f8a35" stroke="none" stroke-width="0"/>
<polygon points="282.64,452.17 280.94,455.12 284.34,455.12" fill="#1f8a35" stroke="none" stroke-width="0"/>
<polygon points="284.23,452.39 282.53,455.34 285.93,455.34" fill="#1f8a35" stroke="none" stroke-width="0"/>
<polygon points="285.83,451.37 284.13,454.31 287.53,454.31" fill="#1f8a35" stroke="none" stroke-width="0"/>
<polygon points="287.42,451.19 285.72,454.14 289.12,454.14" fill="#1f8a35" stroke="none" stroke-width="0"/>
<polygon points="289.02,451.16 287.32,454.10 290.72,454.10" fill="#1f8a35" stroke="none" stroke-width="0"/>
<polygon points="290.62,451.54 288.92,454.49 292.32,454.49" fill="#1f8a35" stroke="none" stroke-width="0"/>
<polygon points="292.21,451.92 290.51,454.86 293.91,454.86" fill="#1f8a35" stroke="none" stroke-width="0"/>
<polygon points="293.81,451.18 292.11,454.12 295.51,454.12" fill="#1f8a35" stroke="none" stroke-width="0"/>
<polygon points="295.40,451.43 293.70,454.37 297.10,454.37" fill="#1f8a35" stroke="none" stroke-width="0"/>
<polygon points="297.00,451.42 295.30,454.36 298.70,454.36" fill="#1f8a35" stroke="none" stroke-width="0"/>
<polyline points="57.6,491.9 59.2,491.2 60.8,490.3 62.4,489.2 64.0,488.1 65.6,486.8 67.2,485.6 68.8,484.3 70.4,482.8 72.0,481.5 73.6,479.9 75.2,478.4 76.8,476.9 78.3,475.8 79.9,474.5 81.5,473.3 83.1,472.6 84.7,471.7 86.3,471.1 87.9,470.6 89.5,469.9 91.1,469.3 92.7,468.3 94.3,467.8 95.9,467.3 97.5,467.1 99.1,466.7 100.7,467.1 102.3,466.7 103.9,465.8 105.5,465.5 107.1,466.0 108.7,465.4 110.3,465.0 111.9,464.9 113.5,464.4 115.1,464.6 116.7,464.5 118.2,464.1 119.8,464.2 121.4,463.2 123.0,463.6 124.6,463.8 126.2,462.6 127.8,462.8 129.4,462.8 131.0,462.3 132.6,462.9 134.2,462.2 135.8,462.0 137.4,462.4 139.0,461.2 140.6,462.1 142.2,461.1 143.8,461.2 145.4,461.2 147.0,461.1 148.6,460.4 150.2,460.6 151.8,460.5 153.4,461.1 155.0,460.9 156.6,460.4 158.1,460.7 159.7,460.4 161.3,459.7 162.9,459.2 164.5,459.6 166.1,459.1 167.7,458.6 169.3,459.6 170.9,459.5 172.5,458.8 174.1,458.7 175.7,458.6 177.3,458.8 178.9,458.1 180.5,458.0 182.1,457.5 183.7,457.3 185.3,457.5 186.9,457.0 188.5,456.6 190.1,456.9 191.7,457.2 193.3,456.6 194.9,457.1 196.5,456.8 198.0,456.6 199.6,456.8 201.2,455.7 202.8,455.8 204.4,456.6 206.0,456.5 207.6,455.5 209.2,456.3 210.8,455.3 212.4,455.4 214.0,455.4 215.6,455.5 217.2,455.6 218.8,456.2 220.4,455.6 222.0,455.1 223.6,455.3 225.2,454.9 226.8,454.9 228.4,455.3 230.0,455.4 231.6,455.0 233.2,455.1 234.8,454.7 236.4,455.3 237.9,454.9 239.5,454.6 241.1,455.0 242.7,454.6 244.3,454.6 245.9,454.3 247.5,455.1 249.1,454.4 250.7,455.2 252.3,454.5 253.9,454.1 255.5,454.7 257.1,454.7 258.7,454.8 260.3,453.8 261.9,454.6 263.5,454.6 265.1,453.9 266.7,454.0 268.3,454.2 269.9,453.7 271.5,454.3 273.1,454.1 274.7,454.2 276.3,453.7 277.8,453.7 279.4,453.3 281.0,453.3 282.6,453.8 284.2,454.0 285.8,453.0 287.4,452.8 289.0,452.8 290.6,453.2 292.2,453.5 293.8,452.8 295.4,453.0 297.0,453.0" fill="none" stroke="#1f8a35" stroke-width="1.6"/>
<circle cx="57.60" cy="492.24" r="2.3" fill="#fff" stroke="#b8141e" stroke-width="0.8"/>
<circle cx="60.45" cy="489.91" r="2.3" fill="#fff" stroke="#b8141e" stroke-width="0.8"/>
<circle cx="63.30" cy="487.86" r="2.3" fill="#fff" stroke="#b8141e" stroke-width="0.8"/>
<circle cx="66.15" cy="485.41" r="2.3" fill="#fff" stroke="#b8141e" stroke-width="0.8"/>
<circle cx="69.00" cy="482.15" r="2.3" fill="#fff" stroke="#b8141e" stroke-width="0.8"/>
<circle cx="71.85" cy="476.80" r="2.3" fill="#fff" stroke="#b8141e" stroke-width="0.8"/>
<circle cx="74.70" cy="471.93" r="2.3" fill="#fff" stroke="#b8141e" stroke-width="0.8"/>
<circle cx="77.55" cy="467.05" r="2.3" fill="#fff" stroke="#b8141e" stroke-width="0.8"/>
<circle cx="80.40" cy="462.88" r="2.3" fill="#fff" stroke="#b8141e" stroke-width="0.8"/>
<circle cx="83.25" cy="459.83" r="2.3" fill="#fff" stroke="#b8141e" stroke-width="0.8"/>
<circle cx="86.10" cy="457.36" r="2.3" fill="#fff" stroke="#b8141e" stroke-width="0.8"/>
<circle cx="88.95" cy="454.90" r="2.3" fill="#fff" stroke="#b8141e" stroke-width="0.8"/>
<circle cx="91.80" cy="451.27" r="2.3" fill="#fff" stroke="#b8141e" stroke-width="0.8"/>
<circle cx="94.65" cy="449.88" r="2.3" fill="#fff" stroke="#b8141e" stroke-width="0.8"/>
<circle cx="97.50" cy="446.77" r="2.3" fill="#fff" stroke="#b8141e" stroke-width="0.8"/>
<circle cx="100.35" cy="445.75" r="2.3" fill="#fff" stroke="#b8141e" stroke-width="0.8"/>
<circle cx="103.20" cy="443.62" r="2.3" fill="#fff" stroke="#b8141e" stroke-width="0.8"/>
<circle cx="106.05" cy="442.32" r="2.3" fill="#fff" stroke="#b8141e" stroke-width="0.8"/>
<circle cx="108.90" cy="440.05" r="2.3" fill="#fff" stroke="#b8141e" stroke-width="0.8"/>
<circle cx="111.75" cy="437.20" r="2.3" fill="#fff" stroke="#b8141e" stroke-width="0.8"/>
<circle cx="114.60" cy="436.76" r="2.3" fill="#fff" stroke="#b8141e" stroke-width="0.8"/>
<circle cx="117.45" cy="434.20" r="2.3" fill="#fff" stroke="#b8141e" stroke-width="0.8"/>
<circle cx="120.30" cy="434.42" r="2.3" fill="#fff" stroke="#b8141e" stroke-width="0.8"/>
<circle cx="123.15" cy="431.36" r="2.3" fill="#fff" stroke="#b8141e" stroke-width="0.8"/>
<circle cx="126.00" cy="430.92" r="2.3" fill="#fff" stroke="#b8141e" stroke-width="0.8"/>
<circle cx="128.85" cy="430.67" r="2.3" fill="#fff" stroke="#b8141e" stroke-width="0.8"/>
<circle cx="131.70" cy="428.78" r="2.3" fill="#fff" stroke="#b8141e" stroke-width="0.8"/>
<circle cx="134.55" cy="429.32" r="2.3" fill="#fff" stroke="#b8141e" stroke-width="0.8"/>
<circle cx="137.40" cy="428.81" r="2.3" fill="#fff" stroke="#b8141e" stroke-width="0.8"/>
<circle cx="140.25" cy="428.30" r="2.3" fill="#fff" stroke="#b8141e" stroke-width="0.8"/>
<circle cx="143.10" cy="428.07" r="2.3" fill="#fff" stroke="#b8141e" stroke-width="0.8"/>
<circle cx="145.95" cy="426.37" r="2.3" fill="#fff" stroke="#b8141e" stroke-width="0.8"/>
<circle cx="148.80" cy="425.05" r="2.3" fill="#fff" stroke="#b8141e" stroke-width="0.8"/>
<circle cx="151.65" cy="424.66" r="2.3" fill="#fff" stroke="#b8141e" stroke-width="0.8"/>
<circle cx="154.50" cy="424.30" r="2.3" fill="#fff" stroke="#b8141e" stroke-width="0.8"/>
<circle cx="157.35" cy="422.83" r="2.3" fill="#fff" stroke="#b8141e" stroke-width="0.8"/>
<circle cx="160.20" cy="423.84" r="2.3" fill="#fff" stroke="#b8141e" stroke-width="0.8"/>
<circle cx="163.05" cy="421.84" r="2.3" fill="#fff" stroke="#b8141e" stroke-width="0.8"/>
<circle cx="165.90" cy="421.36" r="2.3" fill="#fff" stroke="#b8141e" stroke-width="0.8"/>
<circle cx="168.75" cy="423.01" r="2.3" fill="#fff" stroke="#b8141e" stroke-width="0.8"/>
<circle cx="171.60" cy="422.24" r="2.3" fill="#fff" stroke="#b8141e" stroke-width="0.8"/>
<circle cx="174.45" cy="420.39" r="2.3" fill="#fff" stroke="#b8141e" stroke-width="0.8"/>
<circle cx="177.30" cy="420.02" r="2.3" fill="#fff" stroke="#b8141e" stroke-width="0.8"/>
<circle cx="180.15" cy="420.60" r="2.3" fill="#fff" stroke="#b8141e" stroke-width="0.8"/>
<circle cx="183.00" cy="419.52" r="2.3" fill="#fff" stroke="#b8141e" stroke-width="0.8"/>
<circle cx="185.85" cy="418.09" r="2.3" fill="#fff" stroke="#b8141e" stroke-width="0.8"/>
<circle cx="188.70" cy="418.47" r="2.3" fill="#fff" stroke="#b8141e" stroke-width="0.8"/>
<circle cx="191.55" cy="419.78" r="2.3" fill="#fff" stroke="#b8141e" stroke-width="0.8"/>
<circle cx="194.40" cy="418.07" r="2.3" fill="#fff" stroke="#b8141e" stroke-width="0.8"/>
<circle cx="197.25" cy="420.79" r="2.3" fill="#fff" stroke="#b8141e" stroke-width="0.8"/>
<circle cx="200.10" cy="420.10" r="2.3" fill="#fff" stroke="#b8141e" stroke-width="0.8"/>
<circle cx="202.95" cy="419.28" r="2.3" fill="#fff" stroke="#b8141e" stroke-width="0.8"/>
<circle cx="205.80" cy="420.67" r="2.3" fill="#fff" stroke="#b8141e" stroke-width="0.8"/>
<circle cx="208.65" cy="418.83" r="2.3" fill="#fff" stroke="#b8141e" stroke-width="0.8"/>
<circle cx="211.50" cy="419.53" r="2.3" fill="#fff" stroke="#b8141e" stroke-width="0.8"/>
<circle cx="214.35" cy="419.82" r="2.3" fill="#fff" stroke="#b8141e" stroke-width="0.8"/>
<circle cx="217.20" cy="418.88" r="2.3" fill="#fff" stroke="#b8141e" stroke-width="0.8"/>
<circle cx="220.05" cy="420.19" r="2.3" fill="#fff" stroke="#b8141e" stroke-width="0.8"/>
<circle cx="222.90" cy="419.52" r="2.3" fill="#fff" stroke="#b8141e" stroke-width="0.8"/>
<circle cx="225.75" cy="418.02" r="2.3" fill="#fff" stroke="#b8141e" stroke-width="0.8"/>
<circle cx="228.60" cy="417.78" r="2.3" fill="#fff" stroke="#b8141e" stroke-width="0.8"/>
<circle cx="231.45" cy="417.35" r="2.3" fill="#fff" stroke="#b8141e" stroke-width="0.8"/>
<circle cx="234.30" cy="418.92" r="2.3" fill="#fff" stroke="#b8141e" stroke-width="0.8"/>
<circle cx="237.15" cy="418.34" r="2.3" fill="#fff" stroke="#b8141e" stroke-width="0.8"/>
<circle cx="240.00" cy="419.54" r="2.3" fill="#fff" stroke="#b8141e" stroke-width="0.8"/>
<circle cx="242.85" cy="420.54" r="2.3" fill="#fff" stroke="#b8141e" stroke-width="0.8"/>
<circle cx="245.70" cy="421.03" r="2.3" fill="#fff" stroke="#b8141e" stroke-width="0.8"/>
<circle cx="248.55" cy="419.70" r="2.3" fill="#fff" stroke="#b8141e" stroke-width="0.8"/>
<circle cx="251.40" cy="420.88" r="2.3" fill="#fff" stroke="#b8141e" stroke-width="0.8"/>
<circle cx="254.25" cy="421.75" r="2.3" fill="#fff" stroke="#b8141e" stroke-width="0.8"/>
<circle cx="257.10" cy="422.16" r="2.3" fill="#fff" stroke="#b8141e" stroke-width="0.8"/>
<circle cx="259.95" cy="421.88" r="2.3" fill="#fff" stroke="#b8141e" stroke-width="0.8"/>
<circle cx="262.80" cy="421.62" r="2.3" fill="#fff" stroke="#b8141e" stroke-width="0.8"/>
<circle cx="265.65" cy="421.97" r="2.3" fill="#fff" stroke="#b8141e" stroke-width="0.8"/>
<circle cx="268.50" cy="420.52" r="2.3" fill="#fff" stroke="#b8141e" stroke-width="0.8"/>
<circle cx="271.35" cy="420.25" r="2.3" fill="#fff" stroke="#b8141e" stroke-width="0.8"/>
<circle cx="274.20" cy="420.00" r="2.3" fill="#fff" stroke="#b8141e" stroke-width="0.8"/>
<circle cx="277.05" cy="419.07" r="2.3" fill="#fff" stroke="#b8141e" stroke-width="0.8"/>
<circle cx="279.90" cy="419.85" r="2.3" fill="#fff" stroke="#b8141e" stroke-width="0.8"/>
<circle cx="282.75" cy="418.94" r="2.3" fill="#fff" stroke="#b8141e" stroke-width="0.8"/>
<circle cx="285.60" cy="419.81" r="2.3" fill="#fff" stroke="#b8141e" stroke-width="0.8"/>
<circle cx="288.45" cy="419.22" r="2.3" fill="#fff" stroke="#b8141e" stroke-width="0.8"/>
<circle cx="291.30" cy="417.44" r="2.3" fill="#fff" stroke="#b8141e" stroke-width="0.8"/>
<circle cx="294.15" cy="417.10" r="2.3" fill="#fff" stroke="#b8141e" stroke-width="0.8"/>
<circle cx="297.00" cy="418.89" r="2.3" fill="#fff" stroke="#b8141e" stroke-width="0.8"/>
<polygon points="57.60,493.84 55.70,490.55 59.50,490.55" fill="#22166e" stroke="none" stroke-width="0"/>
<polygon points="59.20,491.94 57.30,488.65 61.10,488.65" fill="#22166e" stroke="none" stroke-width="0"/>
<polygon points="60.79,490.61 58.89,487.32 62.69,487.32" fill="#22166e" stroke="none" stroke-width="0"/>
<polygon points="62.39,488.59 60.49,485.30 64.29,485.30" fill="#22166e" stroke="none" stroke-width="0"/>
<polygon points="63.98,486.01 62.08,482.71 65.88,482.71" fill="#22166e" stroke="none" stroke-width="0"/>
<polygon points="65.58,483.22 63.68,479.93 67.48,479.93" fill="#22166e" stroke="none" stroke-width="0"/>
<polygon points="67.18,480.41 65.28,477.12 69.08,477.12" fill="#22166e" stroke="none" stroke-width="0"/>
<polygon points="68.77,476.81 66.87,473.51 70.67,473.51" fill="#22166e" stroke="none" stroke-width="0"/>
<polygon points="70.37,473.41 68.47,470.12 72.27,470.12" fill="#22166e" stroke="none" stroke-width="0"/>
<polygon points="71.96,469.70 70.06,466.41 73.86,466.41" fill="#22166e" stroke="none" stroke-width="0"/>
<polygon points="73.56,466.40 71.66,463.11 75.46,463.11" fill="#22166e" stroke="none" stroke-width="0"/>
<polygon points="75.16,463.15 73.26,459.86 77.06,459.86" fill="#22166e" stroke="none" stroke-width="0"/>
<polygon points="76.75,460.82 74.85,457.52 78.65,457.52" fill="#22166e" stroke="none" stroke-width="0"/>
<polygon points="78.35,457.79 76.45,454.50 80.25,454.50" fill="#22166e" stroke="none" stroke-width="0"/>
<polygon points="79.94,455.48 78.04,452.19 81.84,452.19" fill="#22166e" stroke="none" stroke-width="0"/>
<polygon points="81.54,452.95 79.64,449.66 83.44,449.66" fill="#22166e" stroke="none" stroke-width="0"/>
<polygon points="83.14,450.76 81.24,447.47 85.04,447.47" fill="#22166e" stroke="none" stroke-width="0"/>
<polygon points="84.73,448.82 82.83,445.53 86.63,445.53" fill="#22166e" stroke="none" stroke-width="0"/>
<polygon points="86.33,446.98 84.43,443.69 88.23,443.69" fill="#22166e" stroke="none" stroke-width="0"/>
<polygon points="87.92,445.48 86.02,442.19 89.82,442.19" fill="#22166e" stroke="none" stroke-width="0"/>
<polygon points="89.52,443.54 87.62,440.25 91.42,440.25" fill="#22166e" stroke="none" stroke-width="0"/>
<polygon points="91.12,442.07 89.22,438.78 93.02,438.78" fill="#22166e" stroke="none" stroke-width="0"/>
<polygon points="92.71,440.68 90.81,437.39 94.61,437.39" fill="#22166e" stroke="none" stroke-width="0"/>
<polygon points="94.31,438.50 92.41,435.21 96.21,435.21" fill="#22166e" stroke="none" stroke-width="0"/>
<polygon points="95.90,438.42 94.00,435.13 97.80,435.13" fill="#22166e" stroke="none" stroke-width="0"/>
<polygon points="97.50,437.04 95.60,433.75 99.40,433.75" fill="#22166e" stroke="none" stroke-width="0"/>
<polygon points="99.10,435.84 97.20,432.55 101.00,432.55" fill="#22166e" stroke="none" stroke-width="0"/>
<polygon points="100.69,435.46 98.79,432.17 102.59,432.17" fill="#22166e" stroke="none" stroke-width="0"/>
<polygon points="102.29,433.74 100.39,430.45 104.19,430.45" fill="#22166e" stroke="none" stroke-width="0"/>
<polygon points="103.88,432.98 101.98,429.69 105.78,429.69" fill="#22166e" stroke="none" stroke-width="0"/>
<polygon points="105.48,432.77 103.58,429.48 107.38,429.48" fill="#22166e" stroke="none" stroke-width="0"/>
<polygon points="107.08,431.10 105.18,427.80 108.98,427.80" fill="#22166e" stroke="none" stroke-width="0"/>
<polygon points="108.67,430.93 106.77,427.64 110.57,427.64" fill="#22166e" stroke="none" stroke-width="0"/>
<polygon points="110.27,429.26 108.37,425.97 112.17,425.97" fill="#22166e" stroke="none" stroke-width="0"/>
<polygon points="111.86,429.07 109.96,425.78 113.76,425.78" fill="#22166e" stroke="none" stroke-width="0"/>
<polygon points="113.46,428.46 111.56,425.16 115.36,425.16" fill="#22166e" stroke="none" stroke-width="0"/>
<polygon points="115.06,427.01 113.16,423.71 116.96,423.71" fill="#22166e" stroke="none" stroke-width="0"/>
<polygon points="116.65,426.37 114.75,423.08 118.55,423.08" fill="#22166e" stroke="none" stroke-width="0"/>
<polygon points="118.25,426.14 116.35,422.85 120.15,422.85" fill="#22166e" stroke="none" stroke-width="0"/>
<polygon points="119.84,425.72 117.94,422.43 121.74,422.43" fill="#22166e" stroke="none" stroke-width="0"/>
<polygon points="121.44,424.54 119.54,421.25 123.34,421.25" fill="#22166e" stroke="none" stroke-width="0"/>
<polygon points="123.04,424.46 121.14,421.17 124.94,421.17" fill="#22166e" stroke="none" stroke-width="0"/>
<polygon points="124.63,424.92 122.73,421.63 126.53,421.63" fill="#22166e" stroke="none" stroke-width="0"/>
<polygon points="126.23,423.35 124.33,420.06 128.13,420.06" fill="#22166e" stroke="none" stroke-width="0"/>
<polygon points="127.82,423.60 125.92,420.31 129.72,420.31" fill="#22166e" stroke="none" stroke-width="0"/>
<polygon points="129.42,422.22 127.52,418.93 131.32,418.93" fill="#22166e" stroke="none" stroke-width="0"/>
<polygon points="131.02,422.21 129.12,418.92 132.92,418.92" fill="#22166e" stroke="none" stroke-width="0"/>
<polygon points="132.61,421.89 130.71,418.60 134.51,418.60" fill="#22166e" stroke="none" stroke-width="0"/>
<polygon points="134.21,421.59 132.31,418.30 136.11,418.30" fill="#22166e" stroke="none" stroke-width="0"/>
<polygon points="135.80,421.37 133.90,418.08 137.70,418.08" fill="#22166e" stroke="none" stroke-width="0"/>
<polygon points="137.40,421.08 135.50,417.79 139.30,417.79" fill="#22166e" stroke="none" stroke-width="0"/>
<polygon points="139.00,420.51 137.10,417.22 140.90,417.22" fill="#22166e" stroke="none" stroke-width="0"/>
<polygon points="140.59,420.36 138.69,417.07 142.49,417.07" fill="#22166e" stroke="none" stroke-width="0"/>
<polygon points="142.19,420.16 140.29,416.87 144.09,416.87" fill="#22166e" stroke="none" stroke-width="0"/>
<polygon points="143.78,418.94 141.88,415.65 145.68,415.65" fill="#22166e" stroke="none" stroke-width="0"/>
<polygon points="145.38,419.35 143.48,416.06 147.28,416.06" fill="#22166e" stroke="none" stroke-width="0"/>
<polygon points="146.98,418.45 145.08,415.16 148.88,415.16" fill="#22166e" stroke="none" stroke-width="0"/>
<polygon points="148.57,417.62 146.67,414.33 150.47,414.33" fill="#22166e" stroke="none" stroke-width="0"/>
<polygon points="150.17,417.07 148.27,413.78 152.07,413.78" fill="#22166e" stroke="none" stroke-width="0"/>
<polygon points="151.76,417.60 149.86,414.31 153.66,414.31" fill="#22166e" stroke="none" stroke-width="0"/>
<polygon points="153.36,416.98 151.46,413.69 155.26,413.69" fill="#22166e" stroke="none" stroke-width="0"/>
<polygon points="154.96,415.67 153.06,412.38 156.86,412.38" fill="#22166e" stroke="none" stroke-width="0"/>
<polygon points="156.55,416.08 154.65,412.79 158.45,412.79" fill="#22166e" stroke="none" stroke-width="0"/>
<polygon points="158.15,414.80 156.25,411.51 160.05,411.51" fill="#22166e" stroke="none" stroke-width="0"/>
<polygon points="159.74,415.00 157.84,411.71 161.64,411.71" fill="#22166e" stroke="none" stroke-width="0"/>
<polygon points="161.34,414.97 159.44,411.68 163.24,411.68" fill="#22166e" stroke="none" stroke-width="0"/>
<polygon points="162.94,414.77 161.04,411.48 164.84,411.48" fill="#22166e" stroke="none" stroke-width="0"/>
<polygon points="164.53,413.66 162.63,410.37 166.43,410.37" fill="#22166e" stroke="none" stroke-width="0"/>
<polygon points="166.13,413.16 164.23,409.86 168.03,409.86" fill="#22166e" stroke="none" stroke-width="0"/>
<polygon points="167.72,413.68 165.82,410.39 169.62,410.39" fill="#22166e" stroke="none" stroke-width="0"/>
<polygon points="169.32,413.75 167.42,410.46 171.22,410.46" fill="#22166e" stroke="none" stroke-width="0"/>
<polygon points="170.92,413.39 169.02,410.10 172.82,410.10" fill="#22166e" stroke="none" stroke-width="0"/>
<polygon points="172.51,412.36 170.61,409.07 174.41,409.07" fill="#22166e" stroke="none" stroke-width="0"/>
<polygon points="174.11,412.51 172.21,409.22 176.01,409.22" fill="#22166e" stroke="none" stroke-width="0"/>
<polygon points="175.70,412.58 173.80,409.29 177.60,409.29" fill="#22166e" stroke="none" stroke-width="0"/>
<polygon points="177.30,412.67 175.40,409.38 179.20,409.38" fill="#22166e" stroke="none" stroke-width="0"/>
<polygon points="178.90,411.91 177.00,408.61 180.80,408.61" fill="#22166e" stroke="none" stroke-width="0"/>
<polygon points="180.49,412.36 178.59,409.07 182.39,409.07" fill="#22166e" stroke="none" stroke-width="0"/>
<polygon points="182.09,411.31 180.19,408.02 183.99,408.02" fill="#22166e" stroke="none" stroke-width="0"/>
<polygon points="183.68,411.00 181.78,407.71 185.58,407.71" fill="#22166e" stroke="none" stroke-width="0"/>
<polygon points="185.28,410.96 183.38,407.67 187.18,407.67" fill="#22166e" stroke="none" stroke-width="0"/>
<polygon points="186.88,411.50 184.98,408.21 188.78,408.21" fill="#22166e" stroke="none" stroke-width="0"/>
<polygon points="188.47,411.59 186.57,408.30 190.37,408.30" fill="#22166e" stroke="none" stroke-width="0"/>
<polygon points="190.07,410.77 188.17,407.48 191.97,407.48" fill="#22166e" stroke="none" stroke-width="0"/>
<polygon points="191.66,410.98 189.76,407.69 193.56,407.69" fill="#22166e" stroke="none" stroke-width="0"/>
<polygon points="193.26,409.93 191.36,406.64 195.16,406.64" fill="#22166e" stroke="none" stroke-width="0"/>
<polygon points="194.86,410.36 192.96,407.07 196.76,407.07" fill="#22166e" stroke="none" stroke-width="0"/>
<polygon points="196.45,410.09 194.55,406.80 198.35,406.80" fill="#22166e" stroke="none" stroke-width="0"/>
<polygon points="198.05,409.93 196.15,406.64 199.95,406.64" fill="#22166e" stroke="none" stroke-width="0"/>
<polygon points="199.64,409.38 197.74,406.09 201.54,406.09" fill="#22166e" stroke="none" stroke-width="0"/>
<polygon points="201.24,409.92 199.34,406.63 203.14,406.63" fill="#22166e" stroke="none" stroke-width="0"/>
<polygon points="202.84,409.89 200.94,406.60 204.74,406.60" fill="#22166e" stroke="none" stroke-width="0"/>
<polygon points="204.43,409.74 202.53,406.45 206.33,406.45" fill="#22166e" stroke="none" stroke-width="0"/>
<polygon points="206.03,409.81 204.13,406.52 207.93,406.52" fill="#22166e" stroke="none" stroke-width="0"/>
<polygon points="207.62,409.25 205.72,405.96 209.52,405.96" fill="#22166e" stroke="none" stroke-width="0"/>
<polygon points="209.22,409.78 207.32,406.49 211.12,406.49" fill="#22166e" stroke="none" stroke-width="0"/>
<polygon points="210.82,409.23 208.92,405.94 212.72,405.94" fill="#22166e" stroke="none" stroke-width="0"/>
<polygon points="212.41,409.63 210.51,406.34 214.31,406.34" fill="#22166e" stroke="none" stroke-width="0"/>
<polygon points="214.01,408.77 212.11,405.48 215.91,405.48" fill="#22166e" stroke="none" stroke-width="0"/>
<polygon points="215.60,409.14 213.70,405.85 217.50,405.85" fill="#22166e" stroke="none" stroke-width="0"/>
<polygon points="217.20,408.28 215.30,404.99 219.10,404.99" fill="#22166e" stroke="none" stroke-width="0"/>
<polygon points="218.80,408.04 216.90,404.75 220.70,404.75" fill="#22166e" stroke="none" stroke-width="0"/>
<polygon points="220.39,409.35 218.49,406.06 222.29,406.06" fill="#22166e" stroke="none" stroke-width="0"/>
<polygon points="221.99,408.40 220.09,405.11 223.89,405.11" fill="#22166e" stroke="none" stroke-width="0"/>
<polygon points="223.58,407.83 221.68,404.54 225.48,404.54" fill="#22166e" stroke="none" stroke-width="0"/>
<polygon points="225.18,408.70 223.28,405.41 227.08,405.41" fill="#22166e" stroke="none" stroke-width="0"/>
<polygon points="226.78,409.15 224.88,405.86 228.68,405.86" fill="#22166e" stroke="none" stroke-width="0"/>
<polygon points="228.37,408.84 226.47,405.55 230.27,405.55" fill="#22166e" stroke="none" stroke-width="0"/>
<polygon points="229.97,409.14 228.07,405.84 231.87,405.84" fill="#22166e" stroke="none" stroke-width="0"/>
<polygon points="231.56,409.00 229.66,405.70 233.46,405.70" fill="#22166e" stroke="none" stroke-width="0"/>
<polygon points="233.16,408.13 231.26,404.84 235.06,404.84" fill="#22166e" stroke="none" stroke-width="0"/>
<polygon points="234.76,407.67 232.86,404.38 236.66,404.38" fill="#22166e" stroke="none" stroke-width="0"/>
<polygon points="236.35,407.30 234.45,404.01 238.25,404.01" fill="#22166e" stroke="none" stroke-width="0"/>
<polygon points="237.95,407.53 236.05,404.24 239.85,404.24" fill="#22166e" stroke="none" stroke-width="0"/>
<polygon points="239.54,408.00 237.64,404.71 241.44,404.71" fill="#22166e" stroke="none" stroke-width="0"/>
<polygon points="241.14,408.35 239.24,405.06 243.04,405.06" fill="#22166e" stroke="none" stroke-width="0"/>
<polygon points="242.74,406.79 240.84,403.50 244.64,403.50" fill="#22166e" stroke="none" stroke-width="0"/>
<polygon points="244.33,408.00 242.43,404.71 246.23,404.71" fill="#22166e" stroke="none" stroke-width="0"/>
<polygon points="245.93,407.81 244.03,404.52 247.83,404.52" fill="#22166e" stroke="none" stroke-width="0"/>
<polygon points="247.52,407.59 245.62,404.30 249.42,404.30" fill="#22166e" stroke="none" stroke-width="0"/>
<polygon points="249.12,406.59 247.22,403.30 251.02,403.30" fill="#22166e" stroke="none" stroke-width="0"/>
<polygon points="250.72,406.37 248.82,403.08 252.62,403.08" fill="#22166e" stroke="none" stroke-width="0"/>
<polygon points="252.31,407.36 250.41,404.07 254.21,404.07" fill="#22166e" stroke="none" stroke-width="0"/>
<polygon points="253.91,407.11 252.01,403.82 255.81,403.82" fill="#22166e" stroke="none" stroke-width="0"/>
<polygon points="255.50,406.57 253.60,403.28 257.40,403.28" fill="#22166e" stroke="none" stroke-width="0"/>
<polygon points="257.10,406.43 255.20,403.14 259.00,403.14" fill="#22166e" stroke="none" stroke-width="0"/>
<polygon points="258.70,405.83 256.80,402.54 260.60,402.54" fill="#22166e" stroke="none" stroke-width="0"/>
<polygon points="260.29,407.27 258.39,403.97 262.19,403.97" fill="#22166e" stroke="none" stroke-width="0"/>
<polygon points="261.89,406.91 259.99,403.62 263.79,403.62" fill="#22166e" stroke="none" stroke-width="0"/>
<polygon points="263.48,407.04 261.58,403.75 265.38,403.75" fill="#22166e" stroke="none" stroke-width="0"/>
<polygon points="265.08,406.70 263.18,403.41 266.98,403.41" fill="#22166e" stroke="none" stroke-width="0"/>
<polygon points="266.68,406.04 264.78,402.75 268.58,402.75" fill="#22166e" stroke="none" stroke-width="0"/>
<polygon points="268.27,406.57 266.37,403.28 270.17,403.28" fill="#22166e" stroke="none" stroke-width="0"/>
<polygon points="269.87,405.44 267.97,402.15 271.77,402.15" fill="#22166e" stroke="none" stroke-width="0"/>
<polygon points="271.46,406.12 269.56,402.82 273.36,402.82" fill="#22166e" stroke="none" stroke-width="0"/>
<polygon points="273.06,405.33 271.16,402.04 274.96,402.04" fill="#22166e" stroke="none" stroke-width="0"/>
<polygon points="274.66,405.49 272.76,402.20 276.56,402.20" fill="#22166e" stroke="none" stroke-width="0"/>
<polygon points="276.25,406.17 274.35,402.88 278.15,402.88" fill="#22166e" stroke="none" stroke-width="0"/>
<polygon points="277.85,405.37 275.95,402.08 279.75,402.08" fill="#22166e" stroke="none" stroke-width="0"/>
<polygon points="279.44,406.03 277.54,402.74 281.34,402.74" fill="#22166e" stroke="none" stroke-width="0"/>
<polygon points="281.04,405.47 279.14,402.18 282.94,402.18" fill="#22166e" stroke="none" stroke-width="0"/>
<polygon points="282.64,404.90 280.74,401.61 284.54,401.61" fill="#22166e" stroke="none" stroke-width="0"/>
<polygon points="284.23,404.76 282.33,401.46 286.13,401.46" fill="#22166e" stroke="none" stroke-width="0"/>
<polygon points="285.83,404.26 283.93,400.97 287.73,400.97" fill="#22166e" stroke="none" stroke-width="0"/>
<polygon points="287.42,405.08 285.52,401.79 289.32,401.79" fill="#22166e" stroke="none" stroke-width="0"/>
<polygon points="289.02,405.42 287.12,402.13 290.92,402.13" fill="#22166e" stroke="none" stroke-width="0"/>
<polygon points="290.62,404.35 288.72,401.06 292.52,401.06" fill="#22166e" stroke="none" stroke-width="0"/>
<polygon points="292.21,404.67 290.31,401.38 294.11,401.38" fill="#22166e" stroke="none" stroke-width="0"/>
<polygon points="293.81,405.39 291.91,402.10 295.71,402.10" fill="#22166e" stroke="none" stroke-width="0"/>
<polygon points="295.40,404.35 293.50,401.06 297.30,401.06" fill="#22166e" stroke="none" stroke-width="0"/>
<polygon points="297.00,405.14 295.10,401.85 298.90,401.85" fill="#22166e" stroke="none" stroke-width="0"/>
<polyline points="57.6,492.0 59.2,490.1 60.8,488.8 62.4,486.8 64.0,484.2 65.6,481.4 67.2,478.6 68.8,475.0 70.4,471.6 72.0,467.9 73.6,464.6 75.2,461.3 76.8,459.0 78.3,456.0 79.9,453.7 81.5,451.1 83.1,448.9 84.7,447.0 86.3,445.2 87.9,443.7 89.5,441.7 91.1,440.3 92.7,438.9 94.3,436.7 95.9,436.6 97.5,435.2 99.1,434.0 100.7,433.6 102.3,431.9 103.9,431.2 105.5,431.0 107.1,429.3 108.7,429.1 110.3,427.5 111.9,427.3 113.5,426.6 115.1,425.2 116.7,424.6 118.2,424.3 119.8,423.9 121.4,422.7 123.0,422.7 124.6,423.1 126.2,421.5 127.8,421.8 129.4,420.4 131.0,420.4 132.6,420.1 134.2,419.8 135.8,419.6 137.4,419.3 139.0,418.7 140.6,418.5 142.2,418.3 143.8,417.1 145.4,417.5 147.0,416.6 148.6,415.8 150.2,415.3 151.8,415.8 153.4,415.2 155.0,413.9 156.6,414.3 158.1,413.0 159.7,413.2 161.3,413.2 162.9,413.0 164.5,411.8 166.1,411.3 167.7,411.9 169.3,411.9 170.9,411.6 172.5,410.6 174.1,410.7 175.7,410.8 177.3,410.9 178.9,410.1 180.5,410.6 182.1,409.5 183.7,409.2 185.3,409.2 186.9,409.7 188.5,409.8 190.1,409.0 191.7,409.2 193.3,408.1 194.9,408.6 196.5,408.3 198.0,408.1 199.6,407.6 201.2,408.1 202.8,408.1 204.4,407.9 206.0,408.0 207.6,407.4 209.2,408.0 210.8,407.4 212.4,407.8 214.0,407.0 215.6,407.3 217.2,406.5 218.8,406.2 220.4,407.5 222.0,406.6 223.6,406.0 225.2,406.9 226.8,407.3 228.4,407.0 230.0,407.3 231.6,407.2 233.2,406.3 234.8,405.9 236.4,405.5 237.9,405.7 239.5,406.2 241.1,406.5 242.7,405.0 244.3,406.2 245.9,406.0 247.5,405.8 249.1,404.8 250.7,404.6 252.3,405.6 253.9,405.3 255.5,404.8 257.1,404.6 258.7,404.0 260.3,405.5 261.9,405.1 263.5,405.2 265.1,404.9 266.7,404.2 268.3,404.8 269.9,403.6 271.5,404.3 273.1,403.5 274.7,403.7 276.3,404.4 277.8,403.6 279.4,404.2 281.0,403.7 282.6,403.1 284.2,402.9 285.8,402.4 287.4,403.3 289.0,403.6 290.6,402.5 292.2,402.9 293.8,403.6 295.4,402.5 297.0,403.3" fill="none" stroke="#22166e" stroke-width="2.0"/>
<polygon points="57.60,489.82 54.90,494.50 60.30,494.50" fill="none" stroke="#1f8a35" stroke-width="1.05"/>
<polygon points="60.45,485.54 57.75,490.21 63.15,490.21" fill="none" stroke="#1f8a35" stroke-width="1.05"/>
<polygon points="63.30,481.56 60.60,486.24 66.00,486.24" fill="none" stroke="#1f8a35" stroke-width="1.05"/>
<polygon points="66.15,476.44 63.45,481.12 68.85,481.12" fill="none" stroke="#1f8a35" stroke-width="1.05"/>
<polygon points="69.00,470.49 66.30,475.17 71.70,475.17" fill="none" stroke="#1f8a35" stroke-width="1.05"/>
<polygon points="71.85,463.94 69.15,468.62 74.55,468.62" fill="none" stroke="#1f8a35" stroke-width="1.05"/>
<polygon points="74.70,456.83 72.00,461.51 77.40,461.51" fill="none" stroke="#1f8a35" stroke-width="1.05"/>
<polygon points="77.55,450.72 74.85,455.40 80.25,455.40" fill="none" stroke="#1f8a35" stroke-width="1.05"/>
<polygon points="80.40,444.11 77.70,448.79 83.10,448.79" fill="none" stroke="#1f8a35" stroke-width="1.05"/>
<polygon points="83.25,438.01 80.55,442.69 85.95,442.69" fill="none" stroke="#1f8a35" stroke-width="1.05"/>
<polygon points="86.10,433.93 83.40,438.61 88.80,438.61" fill="none" stroke="#1f8a35" stroke-width="1.05"/>
<polygon points="88.95,431.53 86.25,436.20 91.65,436.20" fill="none" stroke="#1f8a35" stroke-width="1.05"/>
<polygon points="91.80,427.84 89.10,432.52 94.50,432.52" fill="none" stroke="#1f8a35" stroke-width="1.05"/>
<polygon points="94.65,425.16 91.95,429.84 97.35,429.84" fill="none" stroke="#1f8a35" stroke-width="1.05"/>
<polygon points="97.50,421.76 94.80,426.44 100.20,426.44" fill="none" stroke="#1f8a35" stroke-width="1.05"/>
<polygon points="100.35,418.84 97.65,423.51 103.05,423.51" fill="none" stroke="#1f8a35" stroke-width="1.05"/>
<polygon points="103.20,416.68 100.50,421.36 105.90,421.36" fill="none" stroke="#1f8a35" stroke-width="1.05"/>
<polygon points="106.05,414.43 103.35,419.11 108.75,419.11" fill="none" stroke="#1f8a35" stroke-width="1.05"/>
<polygon points="108.90,409.78 106.20,414.45 111.60,414.45" fill="none" stroke="#1f8a35" stroke-width="1.05"/>
<polygon points="111.75,407.71 109.05,412.39 114.45,412.39" fill="none" stroke="#1f8a35" stroke-width="1.05"/>
<polygon points="114.60,405.58 111.90,410.26 117.30,410.26" fill="none" stroke="#1f8a35" stroke-width="1.05"/>
<polygon points="117.45,403.99 114.75,408.66 120.15,408.66" fill="none" stroke="#1f8a35" stroke-width="1.05"/>
<polygon points="120.30,398.82 117.60,403.50 123.00,403.50" fill="none" stroke="#1f8a35" stroke-width="1.05"/>
<polygon points="123.15,396.84 120.45,401.51 125.85,401.51" fill="none" stroke="#1f8a35" stroke-width="1.05"/>
<polygon points="126.00,395.07 123.30,399.74 128.70,399.74" fill="none" stroke="#1f8a35" stroke-width="1.05"/>
<polygon points="128.85,391.53 126.15,396.20 131.55,396.20" fill="none" stroke="#1f8a35" stroke-width="1.05"/>
<polygon points="131.70,391.65 129.00,396.33 134.40,396.33" fill="none" stroke="#1f8a35" stroke-width="1.05"/>
<polygon points="134.55,391.35 131.85,396.03 137.25,396.03" fill="none" stroke="#1f8a35" stroke-width="1.05"/>
<polygon points="137.40,387.06 134.70,391.74 140.10,391.74" fill="none" stroke="#1f8a35" stroke-width="1.05"/>
<polygon points="140.25,386.52 137.55,391.20 142.95,391.20" fill="none" stroke="#1f8a35" stroke-width="1.05"/>
<polygon points="143.10,383.70 140.40,388.37 145.80,388.37" fill="none" stroke="#1f8a35" stroke-width="1.05"/>
<polygon points="145.95,383.85 143.25,388.53 148.65,388.53" fill="none" stroke="#1f8a35" stroke-width="1.05"/>
<polygon points="148.80,384.22 146.10,388.90 151.50,388.90" fill="none" stroke="#1f8a35" stroke-width="1.05"/>
<polygon points="151.65,381.06 148.95,385.74 154.35,385.74" fill="none" stroke="#1f8a35" stroke-width="1.05"/>
<polygon points="154.50,378.30 151.80,382.98 157.20,382.98" fill="none" stroke="#1f8a35" stroke-width="1.05"/>
<polygon points="157.35,377.27 154.65,381.95 160.05,381.95" fill="none" stroke="#1f8a35" stroke-width="1.05"/>
<polygon points="160.20,377.40 157.50,382.07 162.90,382.07" fill="none" stroke="#1f8a35" stroke-width="1.05"/>
<polygon points="163.05,377.18 160.35,381.86 165.75,381.86" fill="none" stroke="#1f8a35" stroke-width="1.05"/>
<polygon points="165.90,374.43 163.20,379.11 168.60,379.11" fill="none" stroke="#1f8a35" stroke-width="1.05"/>
<polygon points="168.75,373.44 166.05,378.12 171.45,378.12" fill="none" stroke="#1f8a35" stroke-width="1.05"/>
<polygon points="171.60,373.61 168.90,378.28 174.30,378.28" fill="none" stroke="#1f8a35" stroke-width="1.05"/>
<polygon points="174.45,369.93 171.75,374.61 177.15,374.61" fill="none" stroke="#1f8a35" stroke-width="1.05"/>
<polygon points="177.30,372.46 174.60,377.14 180.00,377.14" fill="none" stroke="#1f8a35" stroke-width="1.05"/>
<polygon points="180.15,369.66 177.45,374.33 182.85,374.33" fill="none" stroke="#1f8a35" stroke-width="1.05"/>
<polygon points="183.00,368.27 180.30,372.94 185.70,372.94" fill="none" stroke="#1f8a35" stroke-width="1.05"/>
<polygon points="185.85,369.23 183.15,373.91 188.55,373.91" fill="none" stroke="#1f8a35" stroke-width="1.05"/>
<polygon points="188.70,366.93 186.00,371.61 191.40,371.61" fill="none" stroke="#1f8a35" stroke-width="1.05"/>
<polygon points="191.55,366.29 188.85,370.96 194.25,370.96" fill="none" stroke="#1f8a35" stroke-width="1.05"/>
<polygon points="194.40,366.52 191.70,371.20 197.10,371.20" fill="none" stroke="#1f8a35" stroke-width="1.05"/>
<polygon points="197.25,367.97 194.55,372.65 199.95,372.65" fill="none" stroke="#1f8a35" stroke-width="1.05"/>
<polygon points="200.10,365.33 197.40,370.01 202.80,370.01" fill="none" stroke="#1f8a35" stroke-width="1.05"/>
<polygon points="202.95,366.33 200.25,371.01 205.65,371.01" fill="none" stroke="#1f8a35" stroke-width="1.05"/>
<polygon points="205.80,365.06 203.10,369.74 208.50,369.74" fill="none" stroke="#1f8a35" stroke-width="1.05"/>
<polygon points="208.65,365.90 205.95,370.58 211.35,370.58" fill="none" stroke="#1f8a35" stroke-width="1.05"/>
<polygon points="211.50,364.14 208.80,368.82 214.20,368.82" fill="none" stroke="#1f8a35" stroke-width="1.05"/>
<polygon points="214.35,367.24 211.65,371.92 217.05,371.92" fill="none" stroke="#1f8a35" stroke-width="1.05"/>
<polygon points="217.20,368.41 214.50,373.08 219.90,373.08" fill="none" stroke="#1f8a35" stroke-width="1.05"/>
<polygon points="220.05,366.55 217.35,371.23 222.75,371.23" fill="none" stroke="#1f8a35" stroke-width="1.05"/>
<polygon points="222.90,367.25 220.20,371.93 225.60,371.93" fill="none" stroke="#1f8a35" stroke-width="1.05"/>
<polygon points="225.75,368.79 223.05,373.47 228.45,373.47" fill="none" stroke="#1f8a35" stroke-width="1.05"/>
<polygon points="228.60,369.83 225.90,374.51 231.30,374.51" fill="none" stroke="#1f8a35" stroke-width="1.05"/>
<polygon points="231.45,367.56 228.75,372.24 234.15,372.24" fill="none" stroke="#1f8a35" stroke-width="1.05"/>
<polygon points="234.30,370.48 231.60,375.15 237.00,375.15" fill="none" stroke="#1f8a35" stroke-width="1.05"/>
<polygon points="237.15,371.49 234.45,376.16 239.85,376.16" fill="none" stroke="#1f8a35" stroke-width="1.05"/>
<polygon points="240.00,371.85 237.30,376.53 242.70,376.53" fill="none" stroke="#1f8a35" stroke-width="1.05"/>
<polygon points="242.85,370.69 240.15,375.37 245.55,375.37" fill="none" stroke="#1f8a35" stroke-width="1.05"/>
<polygon points="245.70,371.83 243.00,376.51 248.40,376.51" fill="none" stroke="#1f8a35" stroke-width="1.05"/>
<polygon points="248.55,370.33 245.85,375.00 251.25,375.00" fill="none" stroke="#1f8a35" stroke-width="1.05"/>
<polygon points="251.40,368.49 248.70,373.16 254.10,373.16" fill="none" stroke="#1f8a35" stroke-width="1.05"/>
<polygon points="254.25,368.48 251.55,373.16 256.95,373.16" fill="none" stroke="#1f8a35" stroke-width="1.05"/>
<polygon points="257.10,369.31 254.40,373.99 259.80,373.99" fill="none" stroke="#1f8a35" stroke-width="1.05"/>
<polygon points="259.95,368.92 257.25,373.60 262.65,373.60" fill="none" stroke="#1f8a35" stroke-width="1.05"/>
<polygon points="262.80,369.76 260.10,374.43 265.50,374.43" fill="none" stroke="#1f8a35" stroke-width="1.05"/>
<polygon points="265.65,369.24 262.95,373.92 268.35,373.92" fill="none" stroke="#1f8a35" stroke-width="1.05"/>
<polygon points="268.50,367.07 265.80,371.75 271.20,371.75" fill="none" stroke="#1f8a35" stroke-width="1.05"/>
<polygon points="271.35,367.65 268.65,372.32 274.05,372.32" fill="none" stroke="#1f8a35" stroke-width="1.05"/>
<polygon points="274.20,369.01 271.50,373.69 276.90,373.69" fill="none" stroke="#1f8a35" stroke-width="1.05"/>
<polygon points="277.05,367.61 274.35,372.28 279.75,372.28" fill="none" stroke="#1f8a35" stroke-width="1.05"/>
<polygon points="279.90,366.55 277.20,371.22 282.60,371.22" fill="none" stroke="#1f8a35" stroke-width="1.05"/>
<polygon points="282.75,369.27 280.05,373.94 285.45,373.94" fill="none" stroke="#1f8a35" stroke-width="1.05"/>
<polygon points="285.60,367.19 282.90,371.87 288.30,371.87" fill="none" stroke="#1f8a35" stroke-width="1.05"/>
<polygon points="288.45,366.50 285.75,371.18 291.15,371.18" fill="none" stroke="#1f8a35" stroke-width="1.05"/>
<polygon points="291.30,367.27 288.60,371.95 294.00,371.95" fill="none" stroke="#1f8a35" stroke-width="1.05"/>
<polygon points="294.15,366.43 291.45,371.11 296.85,371.11" fill="none" stroke="#1f8a35" stroke-width="1.05"/>
<polygon points="297.00,366.31 294.30,370.99 299.70,370.99" fill="none" stroke="#1f8a35" stroke-width="1.05"/>
<polygon points="57.60,494.82 54.90,490.15 60.30,490.15" fill="none" stroke="#22166e" stroke-width="1.05"/>
<polygon points="60.45,486.51 57.75,481.83 63.15,481.83" fill="none" stroke="#22166e" stroke-width="1.05"/>
<polygon points="63.30,478.27 60.60,473.59 66.00,473.59" fill="none" stroke="#22166e" stroke-width="1.05"/>
<polygon points="66.15,469.30 63.45,464.63 68.85,464.63" fill="none" stroke="#22166e" stroke-width="1.05"/>
<polygon points="69.00,460.87 66.30,456.19 71.70,456.19" fill="none" stroke="#22166e" stroke-width="1.05"/>
<polygon points="71.85,454.34 69.15,449.66 74.55,449.66" fill="none" stroke="#22166e" stroke-width="1.05"/>
<polygon points="74.70,447.57 72.00,442.89 77.40,442.89" fill="none" stroke="#22166e" stroke-width="1.05"/>
<polygon points="77.55,441.03 74.85,436.35 80.25,436.35" fill="none" stroke="#22166e" stroke-width="1.05"/>
<polygon points="80.40,436.20 77.70,431.53 83.10,431.53" fill="none" stroke="#22166e" stroke-width="1.05"/>
<polygon points="83.25,430.18 80.55,425.50 85.95,425.50" fill="none" stroke="#22166e" stroke-width="1.05"/>
<polygon points="86.10,424.57 83.40,419.90 88.80,419.90" fill="none" stroke="#22166e" stroke-width="1.05"/>
<polygon points="88.95,420.54 86.25,415.87 91.65,415.87" fill="none" stroke="#22166e" stroke-width="1.05"/>
<polygon points="91.80,415.13 89.10,410.46 94.50,410.46" fill="none" stroke="#22166e" stroke-width="1.05"/>
<polygon points="94.65,408.22 91.95,403.54 97.35,403.54" fill="none" stroke="#22166e" stroke-width="1.05"/>
<polygon points="97.50,402.49 94.80,397.81 100.20,397.81" fill="none" stroke="#22166e" stroke-width="1.05"/>
<polygon points="100.35,398.53 97.65,393.85 103.05,393.85" fill="none" stroke="#22166e" stroke-width="1.05"/>
<polygon points="103.20,394.67 100.50,389.99 105.90,389.99" fill="none" stroke="#22166e" stroke-width="1.05"/>
<polygon points="106.05,387.10 103.35,382.43 108.75,382.43" fill="none" stroke="#22166e" stroke-width="1.05"/>
<polygon points="108.90,384.28 106.20,379.60 111.60,379.60" fill="none" stroke="#22166e" stroke-width="1.05"/>
<polygon points="111.75,379.24 109.05,374.56 114.45,374.56" fill="none" stroke="#22166e" stroke-width="1.05"/>
<polygon points="114.60,377.74 111.90,373.06 117.30,373.06" fill="none" stroke="#22166e" stroke-width="1.05"/>
<polygon points="117.45,372.23 114.75,367.56 120.15,367.56" fill="none" stroke="#22166e" stroke-width="1.05"/>
<polygon points="120.30,367.54 117.60,362.87 123.00,362.87" fill="none" stroke="#22166e" stroke-width="1.05"/>
<polygon points="123.15,365.18 120.45,360.51 125.85,360.51" fill="none" stroke="#22166e" stroke-width="1.05"/>
<polygon points="126.00,360.74 123.30,356.06 128.70,356.06" fill="none" stroke="#22166e" stroke-width="1.05"/>
<polygon points="128.85,355.10 126.15,350.42 131.55,350.42" fill="none" stroke="#22166e" stroke-width="1.05"/>
<polygon points="131.70,352.66 129.00,347.98 134.40,347.98" fill="none" stroke="#22166e" stroke-width="1.05"/>
<polygon points="134.55,352.21 131.85,347.54 137.25,347.54" fill="none" stroke="#22166e" stroke-width="1.05"/>
<polygon points="137.40,348.75 134.70,344.08 140.10,344.08" fill="none" stroke="#22166e" stroke-width="1.05"/>
<polygon points="140.25,344.60 137.55,339.92 142.95,339.92" fill="none" stroke="#22166e" stroke-width="1.05"/>
<polygon points="143.10,342.78 140.40,338.11 145.80,338.11" fill="none" stroke="#22166e" stroke-width="1.05"/>
<polygon points="145.95,338.31 143.25,333.63 148.65,333.63" fill="none" stroke="#22166e" stroke-width="1.05"/>
<polygon points="148.80,337.94 146.10,333.27 151.50,333.27" fill="none" stroke="#22166e" stroke-width="1.05"/>
<polygon points="151.65,338.66 148.95,333.98 154.35,333.98" fill="none" stroke="#22166e" stroke-width="1.05"/>
<polygon points="154.50,333.10 151.80,328.42 157.20,328.42" fill="none" stroke="#22166e" stroke-width="1.05"/>
<polygon points="157.35,335.33 154.65,330.66 160.05,330.66" fill="none" stroke="#22166e" stroke-width="1.05"/>
<polygon points="160.20,332.73 157.50,328.06 162.90,328.06" fill="none" stroke="#22166e" stroke-width="1.05"/>
<polygon points="163.05,329.77 160.35,325.09 165.75,325.09" fill="none" stroke="#22166e" stroke-width="1.05"/>
<polygon points="165.90,326.02 163.20,321.35 168.60,321.35" fill="none" stroke="#22166e" stroke-width="1.05"/>
<polygon points="168.75,322.48 166.05,317.80 171.45,317.80" fill="none" stroke="#22166e" stroke-width="1.05"/>
<polygon points="171.60,322.12 168.90,317.45 174.30,317.45" fill="none" stroke="#22166e" stroke-width="1.05"/>
<polygon points="174.45,323.03 171.75,318.36 177.15,318.36" fill="none" stroke="#22166e" stroke-width="1.05"/>
<polygon points="177.30,319.96 174.60,315.29 180.00,315.29" fill="none" stroke="#22166e" stroke-width="1.05"/>
<polygon points="180.15,320.52 177.45,315.85 182.85,315.85" fill="none" stroke="#22166e" stroke-width="1.05"/>
<polygon points="183.00,316.04 180.30,311.37 185.70,311.37" fill="none" stroke="#22166e" stroke-width="1.05"/>
<polygon points="185.85,317.81 183.15,313.13 188.55,313.13" fill="none" stroke="#22166e" stroke-width="1.05"/>
<polygon points="188.70,317.04 186.00,312.37 191.40,312.37" fill="none" stroke="#22166e" stroke-width="1.05"/>
<polygon points="191.55,315.38 188.85,310.70 194.25,310.70" fill="none" stroke="#22166e" stroke-width="1.05"/>
<polygon points="194.40,311.73 191.70,307.06 197.10,307.06" fill="none" stroke="#22166e" stroke-width="1.05"/>
<polygon points="197.25,310.93 194.55,306.26 199.95,306.26" fill="none" stroke="#22166e" stroke-width="1.05"/>
<polygon points="200.10,310.15 197.40,305.47 202.80,305.47" fill="none" stroke="#22166e" stroke-width="1.05"/>
<polygon points="202.95,310.12 200.25,305.45 205.65,305.45" fill="none" stroke="#22166e" stroke-width="1.05"/>
<polygon points="205.80,313.74 203.10,309.07 208.50,309.07" fill="none" stroke="#22166e" stroke-width="1.05"/>
<polygon points="208.65,312.50 205.95,307.82 211.35,307.82" fill="none" stroke="#22166e" stroke-width="1.05"/>
<polygon points="211.50,313.86 208.80,309.18 214.20,309.18" fill="none" stroke="#22166e" stroke-width="1.05"/>
<polygon points="214.35,311.09 211.65,306.42 217.05,306.42" fill="none" stroke="#22166e" stroke-width="1.05"/>
<polygon points="217.20,311.15 214.50,306.47 219.90,306.47" fill="none" stroke="#22166e" stroke-width="1.05"/>
<polygon points="220.05,313.73 217.35,309.05 222.75,309.05" fill="none" stroke="#22166e" stroke-width="1.05"/>
<polygon points="222.90,313.99 220.20,309.32 225.60,309.32" fill="none" stroke="#22166e" stroke-width="1.05"/>
<polygon points="225.75,309.06 223.05,304.39 228.45,304.39" fill="none" stroke="#22166e" stroke-width="1.05"/>
<polygon points="228.60,312.82 225.90,308.14 231.30,308.14" fill="none" stroke="#22166e" stroke-width="1.05"/>
<polygon points="231.45,312.04 228.75,307.36 234.15,307.36" fill="none" stroke="#22166e" stroke-width="1.05"/>
<polygon points="234.30,309.55 231.60,304.87 237.00,304.87" fill="none" stroke="#22166e" stroke-width="1.05"/>
<polygon points="237.15,313.11 234.45,308.43 239.85,308.43" fill="none" stroke="#22166e" stroke-width="1.05"/>
<polygon points="240.00,311.74 237.30,307.06 242.70,307.06" fill="none" stroke="#22166e" stroke-width="1.05"/>
<polygon points="242.85,312.33 240.15,307.66 245.55,307.66" fill="none" stroke="#22166e" stroke-width="1.05"/>
<polygon points="245.70,315.28 243.00,310.60 248.40,310.60" fill="none" stroke="#22166e" stroke-width="1.05"/>
<polygon points="248.55,313.83 245.85,309.15 251.25,309.15" fill="none" stroke="#22166e" stroke-width="1.05"/>
<polygon points="251.40,309.98 248.70,305.30 254.10,305.30" fill="none" stroke="#22166e" stroke-width="1.05"/>
<polygon points="254.25,312.96 251.55,308.29 256.95,308.29" fill="none" stroke="#22166e" stroke-width="1.05"/>
<polygon points="257.10,309.22 254.40,304.54 259.80,304.54" fill="none" stroke="#22166e" stroke-width="1.05"/>
<polygon points="259.95,313.47 257.25,308.79 262.65,308.79" fill="none" stroke="#22166e" stroke-width="1.05"/>
<polygon points="262.80,311.68 260.10,307.00 265.50,307.00" fill="none" stroke="#22166e" stroke-width="1.05"/>
<polygon points="265.65,311.56 262.95,306.89 268.35,306.89" fill="none" stroke="#22166e" stroke-width="1.05"/>
<polygon points="268.50,308.08 265.80,303.40 271.20,303.40" fill="none" stroke="#22166e" stroke-width="1.05"/>
<polygon points="271.35,308.14 268.65,303.46 274.05,303.46" fill="none" stroke="#22166e" stroke-width="1.05"/>
<polygon points="274.20,310.19 271.50,305.51 276.90,305.51" fill="none" stroke="#22166e" stroke-width="1.05"/>
<polygon points="277.05,309.35 274.35,304.67 279.75,304.67" fill="none" stroke="#22166e" stroke-width="1.05"/>
<polygon points="279.90,311.53 277.20,306.85 282.60,306.85" fill="none" stroke="#22166e" stroke-width="1.05"/>
<polygon points="282.75,308.66 280.05,303.98 285.45,303.98" fill="none" stroke="#22166e" stroke-width="1.05"/>
<polygon points="285.60,309.17 282.90,304.49 288.30,304.49" fill="none" stroke="#22166e" stroke-width="1.05"/>
<polygon points="288.45,307.62 285.75,302.95 291.15,302.95" fill="none" stroke="#22166e" stroke-width="1.05"/>
<polygon points="291.30,309.97 288.60,305.29 294.00,305.29" fill="none" stroke="#22166e" stroke-width="1.05"/>
<polygon points="294.15,312.86 291.45,308.18 296.85,308.18" fill="none" stroke="#22166e" stroke-width="1.05"/>
<polygon points="297.00,309.82 294.30,305.14 299.70,305.14" fill="none" stroke="#22166e" stroke-width="1.05"/>
</g>
<path d="M309.3,16.0 H46.1 V227.3 H309.3" stroke="#1a1a1a" stroke-width="1.25" fill="none"/>
<path d="M309.3,15.4 V227.9" stroke="#c0392f" stroke-width="1.2" fill="none"/>
<path d="M46.1,29 h4.3" stroke="#1a1a1a" stroke-width="1.2"/>
<path d="M46.1,73 h4.3" stroke="#1a1a1a" stroke-width="1.2"/>
<path d="M46.1,117 h4.3" stroke="#1a1a1a" stroke-width="1.2"/>
<path d="M46.1,161 h4.3" stroke="#1a1a1a" stroke-width="1.2"/>
<path d="M46.1,205 h4.3" stroke="#1a1a1a" stroke-width="1.2"/>
<path d="M45.60,227.3 v-4.3 M45.60,16.0 v4.3" stroke="#1a1a1a" stroke-width="1.2"/>
<path d="M78.55,227.3 v-2.4 M78.55,16.0 v2.4" stroke="#1a1a1a" stroke-width="1.2"/>
<path d="M111.50,227.3 v-4.3 M111.50,16.0 v4.3" stroke="#1a1a1a" stroke-width="1.2"/>
<path d="M144.45,227.3 v-2.4 M144.45,16.0 v2.4" stroke="#1a1a1a" stroke-width="1.2"/>
<path d="M177.40,227.3 v-4.3 M177.40,16.0 v4.3" stroke="#1a1a1a" stroke-width="1.2"/>
<path d="M210.35,227.3 v-2.4 M210.35,16.0 v2.4" stroke="#1a1a1a" stroke-width="1.2"/>
<path d="M243.30,227.3 v-4.3 M243.30,16.0 v4.3" stroke="#1a1a1a" stroke-width="1.2"/>
<path d="M276.25,227.3 v-2.4 M276.25,16.0 v2.4" stroke="#1a1a1a" stroke-width="1.2"/>
<path d="M309.20,227.3 v-4.3 M309.20,16.0 v4.3" stroke="#1a1a1a" stroke-width="1.2"/>
<path d="M309.3,217.2 h-4.3" stroke="#c0392f" stroke-width="1.2"/>
<path d="M309.3,186.9 h-2.4" stroke="#c0392f" stroke-width="1.2"/>
<path d="M309.3,156.7 h-4.3" stroke="#c0392f" stroke-width="1.2"/>
<path d="M309.3,126.4 h-2.4" stroke="#c0392f" stroke-width="1.2"/>
<path d="M309.3,96.2 h-4.3" stroke="#c0392f" stroke-width="1.2"/>
<path d="M309.3,65.9 h-2.4" stroke="#c0392f" stroke-width="1.2"/>
<path d="M309.3,35.7 h-4.3" stroke="#c0392f" stroke-width="1.2"/>
<rect x="46.1" y="290.3" width="262.70" height="211.10" stroke="#1a1a1a" stroke-width="1.25" fill="none"/>
<path d="M46.1,492.0 h4.3 M308.8,492.0 h-4.3" stroke="#1a1a1a" stroke-width="1.2"/>
<path d="M46.1,472.8 h2.4 M308.8,472.8 h-2.4" stroke="#1a1a1a" stroke-width="1.2"/>
<path d="M46.1,453.5 h4.3 M308.8,453.5 h-4.3" stroke="#1a1a1a" stroke-width="1.2"/>
<path d="M46.1,434.3 h2.4 M308.8,434.3 h-2.4" stroke="#1a1a1a" stroke-width="1.2"/>
<path d="M46.1,415.0 h4.3 M308.8,415.0 h-4.3" stroke="#1a1a1a" stroke-width="1.2"/>
<path d="M46.1,395.8 h2.4 M308.8,395.8 h-2.4" stroke="#1a1a1a" stroke-width="1.2"/>
<path d="M46.1,376.6 h4.3 M308.8,376.6 h-4.3" stroke="#1a1a1a" stroke-width="1.2"/>
<path d="M46.1,357.3 h2.4 M308.8,357.3 h-2.4" stroke="#1a1a1a" stroke-width="1.2"/>
<path d="M46.1,338.1 h4.3 M308.8,338.1 h-4.3" stroke="#1a1a1a" stroke-width="1.2"/>
<path d="M46.1,318.8 h2.4 M308.8,318.8 h-2.4" stroke="#1a1a1a" stroke-width="1.2"/>
<path d="M46.1,299.6 h4.3 M308.8,299.6 h-4.3" stroke="#1a1a1a" stroke-width="1.2"/>
<path d="M57.60,501.4 v-4.3 M57.60,290.3 v4.3" stroke="#1a1a1a" stroke-width="1.2"/>
<path d="M97.50,501.4 v-2.4 M97.50,290.3 v2.4" stroke="#1a1a1a" stroke-width="1.2"/>
<path d="M137.40,501.4 v-4.3 M137.40,290.3 v4.3" stroke="#1a1a1a" stroke-width="1.2"/>
<path d="M177.30,501.4 v-2.4 M177.30,290.3 v2.4" stroke="#1a1a1a" stroke-width="1.2"/>
<path d="M217.20,501.4 v-4.3 M217.20,290.3 v4.3" stroke="#1a1a1a" stroke-width="1.2"/>
<path d="M257.10,501.4 v-2.4 M257.10,290.3 v2.4" stroke="#1a1a1a" stroke-width="1.2"/>
<path d="M297.00,501.4 v-4.3 M297.00,290.3 v4.3" stroke="#1a1a1a" stroke-width="1.2"/>
<rect x="68.60" y="45.00" width="7.0" height="7.0" fill="#111" stroke="none" stroke-width="0"/>
<circle cx="85.10" cy="48.30" r="3.9" fill="#b8141e" stroke="none" stroke-width="0"/>
<rect x="123.20" y="45.40" width="6.2" height="6.2" fill="#fff" stroke="#111" stroke-width="1.1"/>
<circle cx="138.40" cy="48.30" r="3.4" fill="#fff" stroke="#b8141e" stroke-width="1.3"/>
<rect x="65.80" y="320.00" width="7.0" height="7.0" fill="#111" stroke="none" stroke-width="0"/>
<circle cx="79.00" cy="323.50" r="3.9" fill="#b8141e" stroke="none" stroke-width="0"/>
<polygon points="89.40,319.89 85.30,327.00 93.50,327.00" fill="#1f8a35" stroke="none" stroke-width="0"/>
<polygon points="100.30,327.49 95.90,319.87 104.70,319.87" fill="#22166e" stroke="none" stroke-width="0"/>
<rect x="66.20" y="352.90" width="6.2" height="6.2" fill="#fff" stroke="#111" stroke-width="1.0"/>
<circle cx="79.00" cy="356.00" r="3.4" fill="#fff" stroke="#b8141e" stroke-width="1.2"/>
<polygon points="89.40,352.58 85.50,359.34 93.30,359.34" fill="none" stroke="#1f8a35" stroke-width="1.1"/>
<polygon points="100.30,359.80 96.10,352.53 104.50,352.53" fill="none" stroke="#22166e" stroke-width="1.1"/>
<path d="M117,147 L86.5,147" stroke="#111" stroke-width="2.0" fill="none"/><path d="M93.50,142.40 L86.5,147 L93.50,151.60" stroke="#111" stroke-width="2.0" fill="none" stroke-linejoin="miter"/>
<path d="M257,147 L287.6,147" stroke="#b8141e" stroke-width="2.0" fill="none"/><path d="M280.60,151.60 L287.6,147 L280.60,142.40" stroke="#b8141e" stroke-width="2.0" fill="none" stroke-linejoin="miter"/>
<path d="M284.3,397 L284.3,317.5" stroke="#22166e" stroke-width="1.5" fill="none"/><path d="M288.10,324.50 L284.3,317.5 L280.50,324.50" stroke="#22166e" stroke-width="1.5" fill="none" stroke-linejoin="miter"/>
<path d="M269.5,449 L269.5,378.5" stroke="#1f8a35" stroke-width="1.5" fill="none"/><path d="M273.30,385.50 L269.5,378.5 L265.70,385.50" stroke="#1f8a35" stroke-width="1.5" fill="none" stroke-linejoin="miter"/>
<path d="M250.6,473.5 L250.6,428" stroke="#b8141e" stroke-width="1.4" fill="none"/><path d="M254.20,434.50 L250.6,428 L247.00,434.50" stroke="#b8141e" stroke-width="1.4" fill="none" stroke-linejoin="miter"/>
<path d="M237.1,488.5 L237.1,478.8" stroke="#111" stroke-width="1.6" fill="none"/><path d="M239.60,482.80 L237.1,478.8 L234.60,482.80" stroke="#111" stroke-width="1.6" fill="none" stroke-linejoin="miter"/>
<text x="1.2" y="12.9" font-size="16.8" stroke="#000" stroke-width="0.75">(a)</text>
<text x="1.2" y="287.9" font-size="16.8" stroke="#000" stroke-width="0.75">(b)</text>
<text x="41.6" y="33.099999999999994" font-size="12.9" font-weight="bold" text-anchor="end">10<tspan font-size="7.2" dy="-6.3" dx="0.8">-6</tspan></text>
<text x="41.6" y="77.1" font-size="12.9" font-weight="bold" text-anchor="end">10<tspan font-size="7.2" dy="-6.3" dx="0.8">-7</tspan></text>
<text x="41.6" y="121.1" font-size="12.9" font-weight="bold" text-anchor="end">10<tspan font-size="7.2" dy="-6.3" dx="0.8">-8</tspan></text>
<text x="41.6" y="165.10000000000002" font-size="12.9" font-weight="bold" text-anchor="end">10<tspan font-size="7.2" dy="-6.3" dx="0.8">-9</tspan></text>
<text x="41.6" y="209.10000000000002" font-size="12.9" font-weight="bold" text-anchor="end">10<tspan font-size="7.2" dy="-6.3" dx="0.8">-10</tspan></text>
<text x="45.599999999999994" y="239.6" font-size="12.2" font-weight="bold" text-anchor="middle">-40</text>
<text x="111.5" y="239.6" font-size="12.2" font-weight="bold" text-anchor="middle">-20</text>
<text x="177.4" y="239.6" font-size="12.2" font-weight="bold" text-anchor="middle">0</text>
<text x="243.3" y="239.6" font-size="12.2" font-weight="bold" text-anchor="middle">20</text>
<text x="309.20000000000005" y="239.6" font-size="12.2" font-weight="bold" text-anchor="middle">40</text>
<text x="313.5" y="221.5" font-size="12.2" font-weight="bold" fill="#b8141e">0.0</text>
<text x="313.5" y="161.0" font-size="12.2" font-weight="bold" fill="#b8141e">0.3</text>
<text x="313.5" y="100.5" font-size="12.2" font-weight="bold" fill="#b8141e">0.6</text>
<text x="313.5" y="40.0" font-size="12.2" font-weight="bold" fill="#b8141e">0.9</text>
<text x="157" y="254" font-size="16.5" font-weight="bold"><tspan font-style="italic">V</tspan><tspan font-size="10" dy="6.8" dx="-2.6">gs</tspan><tspan dy="-6.8" dx="1.8">(V)</tspan></text>
<text transform="translate(14.5,149.6) rotate(-90)" font-size="16.7" font-weight="bold"><tspan font-style="italic">I</tspan><tspan font-size="10.5" dy="6.5" dx="-1.2">ds</tspan><tspan dy="-6.5" dx="4.2">(A)</tspan></text>
<text transform="translate(336,105.2) rotate(90)" font-size="16.7" font-weight="bold" fill="#b8141e"><tspan font-style="italic">I</tspan><tspan font-size="10.5" dy="5.8" dx="-1.2">ds</tspan><tspan dy="-5.8" dx="3.4">(μA)</tspan></text>
<text x="61" y="35.8" font-size="10.8" font-weight="bold">[Before] / [After]</text>
<text x="61" y="52" font-size="11" font-weight="bold">:</text>
<text x="115" y="52" font-size="11" font-weight="bold">:</text>
<text x="61" y="68.8" font-size="11" stroke="#000" stroke-width="0.2"><tspan font-style="italic">W</tspan> / <tspan font-style="italic">L</tspan> = 1 / 2 μm</text>
<text x="61" y="84.6" font-size="11" stroke="#000" stroke-width="0.2"><tspan font-style="italic">t</tspan><tspan font-size="7.5" dy="2.5">ox</tspan><tspan dy="-2.5"> = 300 nm</tspan></text>
<text x="61" y="101.6" font-size="11" stroke="#000" stroke-width="0.2"><tspan font-style="italic">V</tspan><tspan font-size="7.5" dy="2.5">ds</tspan><tspan dy="-2.5" xml:space="preserve"> =  1 V</tspan></text>
<text x="41" y="496.3" font-size="12.2" font-weight="bold" text-anchor="end">0.0</text>
<text x="41" y="457.8" font-size="12.2" font-weight="bold" text-anchor="end">0.2</text>
<text x="41" y="419.3" font-size="12.2" font-weight="bold" text-anchor="end">0.4</text>
<text x="41" y="380.9" font-size="12.2" font-weight="bold" text-anchor="end">0.6</text>
<text x="41" y="342.4" font-size="12.2" font-weight="bold" text-anchor="end">0.8</text>
<text x="41" y="303.9" font-size="12.2" font-weight="bold" text-anchor="end">1.0</text>
<text x="57.6" y="514.3" font-size="12.2" font-weight="bold" text-anchor="middle">0</text>
<text x="137.4" y="514.3" font-size="12.2" font-weight="bold" text-anchor="middle">10</text>
<text x="217.20000000000002" y="514.3" font-size="12.2" font-weight="bold" text-anchor="middle">20</text>
<text x="297.0" y="514.3" font-size="12.2" font-weight="bold" text-anchor="middle">30</text>
<text x="156" y="528.6" font-size="16.5" font-weight="bold"><tspan font-style="italic">V</tspan><tspan font-size="10" dy="6.2" dx="-2.6">ds</tspan><tspan dy="-6.5" dx="3.4">(V)</tspan></text>
<text transform="translate(14.5,424.6) rotate(-90)" font-size="16.7" font-weight="bold"><tspan font-style="italic">I</tspan><tspan font-size="10.5" dy="6.5" dx="-1.2">ds</tspan><tspan dy="-6.5" dx="4.2">(μA)</tspan></text>
<text x="59" y="311" font-size="10.5" font-weight="bold">[Before]</text>
<text x="59" y="327" font-size="10.5" font-weight="bold">:</text>
<text x="59" y="343" font-size="10.5" font-weight="bold">[After]</text>
<text x="59" y="359" font-size="10.5" font-weight="bold">:</text>
<text x="255" y="331.5" font-size="10.5" font-weight="bold" fill="#22166e">20 V</text>
<text x="241" y="392.8" font-size="10.5" font-weight="bold" fill="#1f8a35">15 V</text>
<text x="221.5" y="441" font-size="10.5" font-weight="bold" fill="#b8141e">10 V</text>
<text x="216.2" y="487.8" font-size="9.2" font-weight="bold">5 V</text>
</svg></body></html>
